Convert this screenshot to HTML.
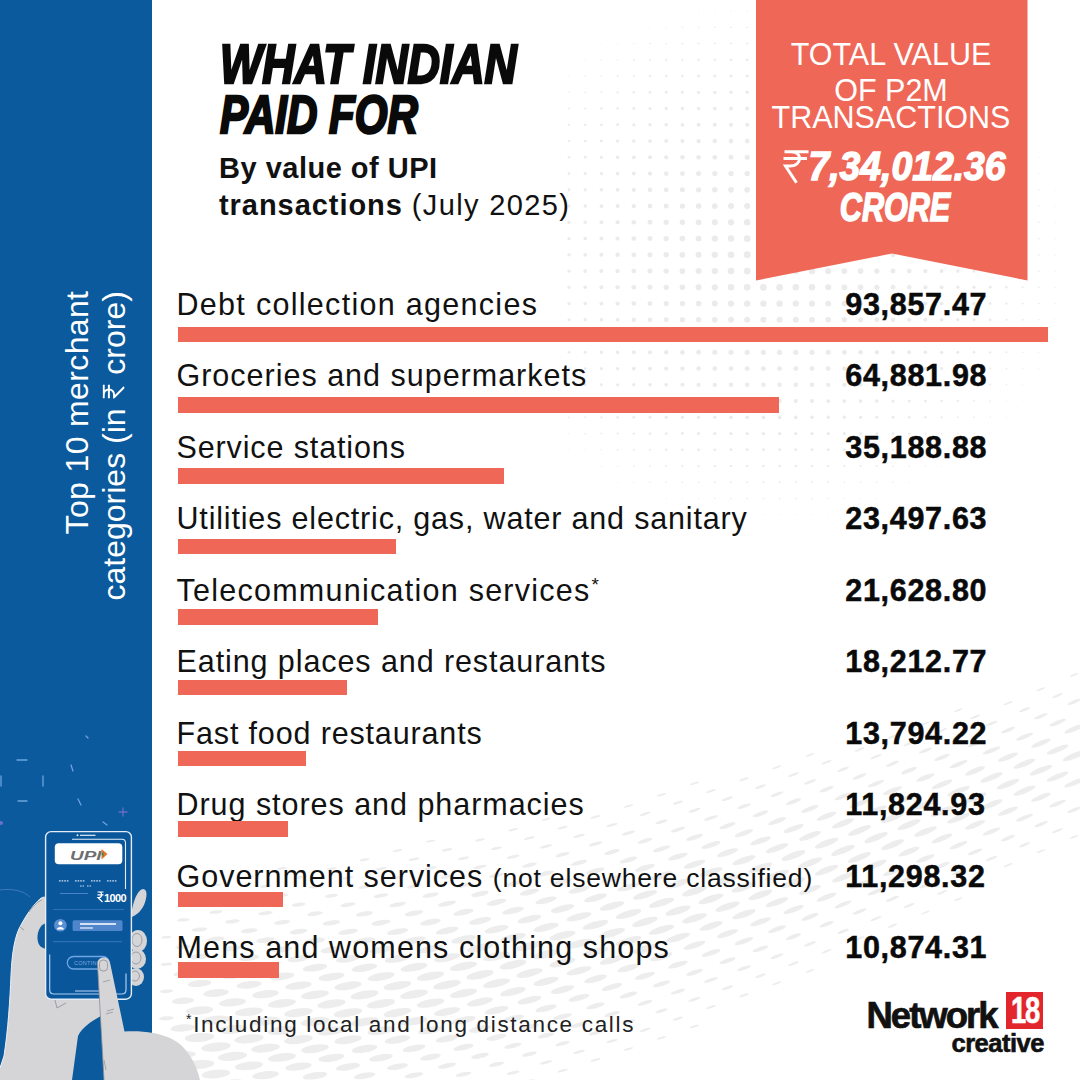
<!DOCTYPE html><html><head><meta charset="utf-8"><style>
html,body{margin:0;padding:0;}
body{width:1080px;height:1080px;position:relative;overflow:hidden;background:#fff;font-family:"Liberation Sans",sans-serif;}
.t{position:absolute;white-space:nowrap;line-height:1;transform-origin:0 0;}
.bar{position:absolute;background:#ef6857;}
svg{position:absolute;}
</style></head><body>
<svg style="left:0;top:0" width="1080" height="700" viewBox="0 0 1080 700">
<g fill="#ebebeb"><circle cx="682.4" cy="11.1" r="0.49"/><circle cx="698.6" cy="11.1" r="0.55"/><circle cx="714.8" cy="11.1" r="0.59"/><circle cx="731.0" cy="11.1" r="0.63"/><circle cx="747.2" cy="11.1" r="0.65"/><circle cx="763.4" cy="11.1" r="0.66"/><circle cx="779.6" cy="11.1" r="0.66"/><circle cx="795.8" cy="11.1" r="0.65"/><circle cx="812.0" cy="11.1" r="0.62"/><circle cx="828.2" cy="11.1" r="0.59"/><circle cx="844.4" cy="11.1" r="0.54"/><circle cx="860.6" cy="11.1" r="0.48"/><circle cx="633.8" cy="27.3" r="0.48"/><circle cx="650.0" cy="27.3" r="0.57"/><circle cx="666.2" cy="27.3" r="0.65"/><circle cx="682.4" cy="27.3" r="0.72"/><circle cx="698.6" cy="27.3" r="0.78"/><circle cx="714.8" cy="27.3" r="0.83"/><circle cx="731.0" cy="27.3" r="0.86"/><circle cx="747.2" cy="27.3" r="0.89"/><circle cx="763.4" cy="27.3" r="0.90"/><circle cx="779.6" cy="27.3" r="0.90"/><circle cx="795.8" cy="27.3" r="0.88"/><circle cx="812.0" cy="27.3" r="0.86"/><circle cx="828.2" cy="27.3" r="0.82"/><circle cx="844.4" cy="27.3" r="0.77"/><circle cx="860.6" cy="27.3" r="0.71"/><circle cx="876.8" cy="27.3" r="0.64"/><circle cx="893.0" cy="27.3" r="0.56"/><circle cx="909.2" cy="27.3" r="0.46"/><circle cx="601.4" cy="43.5" r="0.47"/><circle cx="617.6" cy="43.5" r="0.59"/><circle cx="633.8" cy="43.5" r="0.70"/><circle cx="650.0" cy="43.5" r="0.79"/><circle cx="666.2" cy="43.5" r="0.87"/><circle cx="682.4" cy="43.5" r="0.94"/><circle cx="698.6" cy="43.5" r="1.00"/><circle cx="714.8" cy="43.5" r="1.05"/><circle cx="731.0" cy="43.5" r="1.09"/><circle cx="747.2" cy="43.5" r="1.11"/><circle cx="763.4" cy="43.5" r="1.12"/><circle cx="779.6" cy="43.5" r="1.12"/><circle cx="795.8" cy="43.5" r="1.11"/><circle cx="812.0" cy="43.5" r="1.08"/><circle cx="828.2" cy="43.5" r="1.04"/><circle cx="844.4" cy="43.5" r="0.99"/><circle cx="860.6" cy="43.5" r="0.93"/><circle cx="876.8" cy="43.5" r="0.86"/><circle cx="893.0" cy="43.5" r="0.77"/><circle cx="909.2" cy="43.5" r="0.68"/><circle cx="925.4" cy="43.5" r="0.57"/><circle cx="585.2" cy="59.8" r="0.55"/><circle cx="601.4" cy="59.8" r="0.68"/><circle cx="617.6" cy="59.8" r="0.79"/><circle cx="633.8" cy="59.8" r="0.90"/><circle cx="650.0" cy="59.8" r="0.99"/><circle cx="666.2" cy="59.8" r="1.08"/><circle cx="682.4" cy="59.8" r="1.15"/><circle cx="698.6" cy="59.8" r="1.21"/><circle cx="714.8" cy="59.8" r="1.26"/><circle cx="731.0" cy="59.8" r="1.30"/><circle cx="747.2" cy="59.8" r="1.33"/><circle cx="763.4" cy="59.8" r="1.34"/><circle cx="779.6" cy="59.8" r="1.34"/><circle cx="795.8" cy="59.8" r="1.32"/><circle cx="812.0" cy="59.8" r="1.30"/><circle cx="828.2" cy="59.8" r="1.26"/><circle cx="844.4" cy="59.8" r="1.20"/><circle cx="860.6" cy="59.8" r="1.14"/><circle cx="876.8" cy="59.8" r="1.06"/><circle cx="893.0" cy="59.8" r="0.98"/><circle cx="909.2" cy="59.8" r="0.88"/><circle cx="925.4" cy="59.8" r="0.77"/><circle cx="941.6" cy="59.8" r="0.65"/><circle cx="957.8" cy="59.8" r="0.52"/><circle cx="569.0" cy="76.0" r="0.59"/><circle cx="585.2" cy="76.0" r="0.73"/><circle cx="601.4" cy="76.0" r="0.86"/><circle cx="617.6" cy="76.0" r="0.98"/><circle cx="633.8" cy="76.0" r="1.09"/><circle cx="650.0" cy="76.0" r="1.19"/><circle cx="666.2" cy="76.0" r="1.28"/><circle cx="682.4" cy="76.0" r="1.35"/><circle cx="698.6" cy="76.0" r="1.42"/><circle cx="714.8" cy="76.0" r="1.47"/><circle cx="731.0" cy="76.0" r="1.51"/><circle cx="747.2" cy="76.0" r="1.54"/><circle cx="763.4" cy="76.0" r="1.55"/><circle cx="779.6" cy="76.0" r="1.55"/><circle cx="795.8" cy="76.0" r="1.53"/><circle cx="812.0" cy="76.0" r="1.50"/><circle cx="828.2" cy="76.0" r="1.46"/><circle cx="844.4" cy="76.0" r="1.41"/><circle cx="860.6" cy="76.0" r="1.34"/><circle cx="876.8" cy="76.0" r="1.26"/><circle cx="893.0" cy="76.0" r="1.17"/><circle cx="909.2" cy="76.0" r="1.07"/><circle cx="925.4" cy="76.0" r="0.96"/><circle cx="941.6" cy="76.0" r="0.84"/><circle cx="957.8" cy="76.0" r="0.71"/><circle cx="974.0" cy="76.0" r="0.56"/><circle cx="569.0" cy="92.3" r="0.76"/><circle cx="585.2" cy="92.3" r="0.90"/><circle cx="601.4" cy="92.3" r="1.04"/><circle cx="617.6" cy="92.3" r="1.16"/><circle cx="633.8" cy="92.3" r="1.27"/><circle cx="650.0" cy="92.3" r="1.37"/><circle cx="666.2" cy="92.3" r="1.47"/><circle cx="682.4" cy="92.3" r="1.55"/><circle cx="698.6" cy="92.3" r="1.61"/><circle cx="714.8" cy="92.3" r="1.67"/><circle cx="731.0" cy="92.3" r="1.71"/><circle cx="747.2" cy="92.3" r="1.74"/><circle cx="763.4" cy="92.3" r="1.75"/><circle cx="779.6" cy="92.3" r="1.75"/><circle cx="795.8" cy="92.3" r="1.74"/><circle cx="812.0" cy="92.3" r="1.70"/><circle cx="828.2" cy="92.3" r="1.66"/><circle cx="844.4" cy="92.3" r="1.60"/><circle cx="860.6" cy="92.3" r="1.53"/><circle cx="876.8" cy="92.3" r="1.45"/><circle cx="893.0" cy="92.3" r="1.36"/><circle cx="909.2" cy="92.3" r="1.25"/><circle cx="925.4" cy="92.3" r="1.14"/><circle cx="941.6" cy="92.3" r="1.01"/><circle cx="957.8" cy="92.3" r="0.88"/><circle cx="974.0" cy="92.3" r="0.73"/><circle cx="990.2" cy="92.3" r="0.58"/><circle cx="569.0" cy="108.5" r="0.92"/><circle cx="585.2" cy="108.5" r="1.06"/><circle cx="601.4" cy="108.5" r="1.20"/><circle cx="617.6" cy="108.5" r="1.32"/><circle cx="633.8" cy="108.5" r="1.44"/><circle cx="650.0" cy="108.5" r="1.55"/><circle cx="666.2" cy="108.5" r="1.65"/><circle cx="682.4" cy="108.5" r="1.73"/><circle cx="698.6" cy="108.5" r="1.80"/><circle cx="714.8" cy="108.5" r="1.86"/><circle cx="731.0" cy="108.5" r="1.91"/><circle cx="747.2" cy="108.5" r="1.94"/><circle cx="763.4" cy="108.5" r="1.95"/><circle cx="779.6" cy="108.5" r="1.95"/><circle cx="795.8" cy="108.5" r="1.94"/><circle cx="812.0" cy="108.5" r="1.90"/><circle cx="828.2" cy="108.5" r="1.85"/><circle cx="844.4" cy="108.5" r="1.79"/><circle cx="860.6" cy="108.5" r="1.72"/><circle cx="876.8" cy="108.5" r="1.63"/><circle cx="893.0" cy="108.5" r="1.53"/><circle cx="909.2" cy="108.5" r="1.42"/><circle cx="925.4" cy="108.5" r="1.30"/><circle cx="941.6" cy="108.5" r="1.17"/><circle cx="957.8" cy="108.5" r="1.04"/><circle cx="974.0" cy="108.5" r="0.89"/><circle cx="990.2" cy="108.5" r="0.73"/><circle cx="1006.4" cy="108.5" r="0.57"/><circle cx="569.0" cy="124.8" r="1.06"/><circle cx="585.2" cy="124.8" r="1.21"/><circle cx="601.4" cy="124.8" r="1.35"/><circle cx="617.6" cy="124.8" r="1.48"/><circle cx="633.8" cy="124.8" r="1.60"/><circle cx="650.0" cy="124.8" r="1.72"/><circle cx="666.2" cy="124.8" r="1.82"/><circle cx="682.4" cy="124.8" r="1.91"/><circle cx="698.6" cy="124.8" r="1.99"/><circle cx="714.8" cy="124.8" r="2.05"/><circle cx="731.0" cy="124.8" r="2.10"/><circle cx="747.2" cy="124.8" r="2.14"/><circle cx="763.4" cy="124.8" r="2.15"/><circle cx="779.6" cy="124.8" r="2.15"/><circle cx="795.8" cy="124.8" r="2.13"/><circle cx="812.0" cy="124.8" r="2.09"/><circle cx="828.2" cy="124.8" r="2.04"/><circle cx="844.4" cy="124.8" r="1.97"/><circle cx="860.6" cy="124.8" r="1.89"/><circle cx="876.8" cy="124.8" r="1.80"/><circle cx="893.0" cy="124.8" r="1.70"/><circle cx="909.2" cy="124.8" r="1.58"/><circle cx="925.4" cy="124.8" r="1.46"/><circle cx="941.6" cy="124.8" r="1.32"/><circle cx="957.8" cy="124.8" r="1.18"/><circle cx="974.0" cy="124.8" r="1.03"/><circle cx="990.2" cy="124.8" r="0.87"/><circle cx="1006.4" cy="124.8" r="0.71"/><circle cx="1022.6" cy="124.8" r="0.53"/><circle cx="569.0" cy="141.1" r="1.19"/><circle cx="585.2" cy="141.1" r="1.34"/><circle cx="601.4" cy="141.1" r="1.49"/><circle cx="617.6" cy="141.1" r="1.62"/><circle cx="633.8" cy="141.1" r="1.75"/><circle cx="650.0" cy="141.1" r="1.87"/><circle cx="666.2" cy="141.1" r="1.98"/><circle cx="682.4" cy="141.1" r="2.08"/><circle cx="698.6" cy="141.1" r="2.17"/><circle cx="714.8" cy="141.1" r="2.24"/><circle cx="731.0" cy="141.1" r="2.29"/><circle cx="747.2" cy="141.1" r="2.33"/><circle cx="763.4" cy="141.1" r="2.35"/><circle cx="779.6" cy="141.1" r="2.34"/><circle cx="795.8" cy="141.1" r="2.32"/><circle cx="812.0" cy="141.1" r="2.28"/><circle cx="828.2" cy="141.1" r="2.22"/><circle cx="844.4" cy="141.1" r="2.15"/><circle cx="860.6" cy="141.1" r="2.06"/><circle cx="876.8" cy="141.1" r="1.96"/><circle cx="893.0" cy="141.1" r="1.85"/><circle cx="909.2" cy="141.1" r="1.73"/><circle cx="925.4" cy="141.1" r="1.60"/><circle cx="941.6" cy="141.1" r="1.46"/><circle cx="957.8" cy="141.1" r="1.31"/><circle cx="974.0" cy="141.1" r="1.16"/><circle cx="990.2" cy="141.1" r="1.00"/><circle cx="1006.4" cy="141.1" r="0.83"/><circle cx="1022.6" cy="141.1" r="0.65"/><circle cx="1038.8" cy="141.1" r="0.46"/><circle cx="569.0" cy="157.3" r="1.31"/><circle cx="585.2" cy="157.3" r="1.46"/><circle cx="601.4" cy="157.3" r="1.61"/><circle cx="617.6" cy="157.3" r="1.75"/><circle cx="633.8" cy="157.3" r="1.89"/><circle cx="650.0" cy="157.3" r="2.02"/><circle cx="666.2" cy="157.3" r="2.13"/><circle cx="682.4" cy="157.3" r="2.24"/><circle cx="698.6" cy="157.3" r="2.33"/><circle cx="714.8" cy="157.3" r="2.41"/><circle cx="731.0" cy="157.3" r="2.47"/><circle cx="747.2" cy="157.3" r="2.52"/><circle cx="763.4" cy="157.3" r="2.54"/><circle cx="779.6" cy="157.3" r="2.54"/><circle cx="795.8" cy="157.3" r="2.51"/><circle cx="812.0" cy="157.3" r="2.47"/><circle cx="828.2" cy="157.3" r="2.40"/><circle cx="844.4" cy="157.3" r="2.32"/><circle cx="860.6" cy="157.3" r="2.22"/><circle cx="876.8" cy="157.3" r="2.11"/><circle cx="893.0" cy="157.3" r="1.99"/><circle cx="909.2" cy="157.3" r="1.87"/><circle cx="925.4" cy="157.3" r="1.73"/><circle cx="941.6" cy="157.3" r="1.58"/><circle cx="957.8" cy="157.3" r="1.43"/><circle cx="974.0" cy="157.3" r="1.28"/><circle cx="990.2" cy="157.3" r="1.11"/><circle cx="1006.4" cy="157.3" r="0.94"/><circle cx="1022.6" cy="157.3" r="0.76"/><circle cx="1038.8" cy="157.3" r="0.57"/><circle cx="569.0" cy="173.6" r="1.41"/><circle cx="585.2" cy="173.6" r="1.57"/><circle cx="601.4" cy="173.6" r="1.72"/><circle cx="617.6" cy="173.6" r="1.87"/><circle cx="633.8" cy="173.6" r="2.01"/><circle cx="650.0" cy="173.6" r="2.15"/><circle cx="666.2" cy="173.6" r="2.28"/><circle cx="682.4" cy="173.6" r="2.39"/><circle cx="698.6" cy="173.6" r="2.50"/><circle cx="714.8" cy="173.6" r="2.58"/><circle cx="731.0" cy="173.6" r="2.65"/><circle cx="747.2" cy="173.6" r="2.70"/><circle cx="763.4" cy="173.6" r="2.73"/><circle cx="779.6" cy="173.6" r="2.72"/><circle cx="795.8" cy="173.6" r="2.69"/><circle cx="812.0" cy="173.6" r="2.64"/><circle cx="828.2" cy="173.6" r="2.57"/><circle cx="844.4" cy="173.6" r="2.48"/><circle cx="860.6" cy="173.6" r="2.37"/><circle cx="876.8" cy="173.6" r="2.25"/><circle cx="893.0" cy="173.6" r="2.12"/><circle cx="909.2" cy="173.6" r="1.99"/><circle cx="925.4" cy="173.6" r="1.84"/><circle cx="941.6" cy="173.6" r="1.69"/><circle cx="957.8" cy="173.6" r="1.54"/><circle cx="974.0" cy="173.6" r="1.38"/><circle cx="990.2" cy="173.6" r="1.21"/><circle cx="1006.4" cy="173.6" r="1.03"/><circle cx="1022.6" cy="173.6" r="0.85"/><circle cx="1038.8" cy="173.6" r="0.66"/><circle cx="1055.0" cy="173.6" r="0.46"/><circle cx="569.0" cy="189.8" r="1.49"/><circle cx="585.2" cy="189.8" r="1.66"/><circle cx="601.4" cy="189.8" r="1.82"/><circle cx="617.6" cy="189.8" r="1.97"/><circle cx="633.8" cy="189.8" r="2.12"/><circle cx="650.0" cy="189.8" r="2.27"/><circle cx="666.2" cy="189.8" r="2.40"/><circle cx="682.4" cy="189.8" r="2.53"/><circle cx="698.6" cy="189.8" r="2.64"/><circle cx="714.8" cy="189.8" r="2.74"/><circle cx="731.0" cy="189.8" r="2.83"/><circle cx="747.2" cy="189.8" r="2.88"/><circle cx="763.4" cy="189.8" r="2.91"/><circle cx="779.6" cy="189.8" r="2.91"/><circle cx="795.8" cy="189.8" r="2.87"/><circle cx="812.0" cy="189.8" r="2.81"/><circle cx="828.2" cy="189.8" r="2.73"/><circle cx="844.4" cy="189.8" r="2.62"/><circle cx="860.6" cy="189.8" r="2.51"/><circle cx="876.8" cy="189.8" r="2.38"/><circle cx="893.0" cy="189.8" r="2.24"/><circle cx="909.2" cy="189.8" r="2.10"/><circle cx="925.4" cy="189.8" r="1.95"/><circle cx="941.6" cy="189.8" r="1.79"/><circle cx="957.8" cy="189.8" r="1.63"/><circle cx="974.0" cy="189.8" r="1.46"/><circle cx="990.2" cy="189.8" r="1.29"/><circle cx="1006.4" cy="189.8" r="1.11"/><circle cx="1022.6" cy="189.8" r="0.93"/><circle cx="1038.8" cy="189.8" r="0.74"/><circle cx="1055.0" cy="189.8" r="0.53"/><circle cx="569.0" cy="206.1" r="1.56"/><circle cx="585.2" cy="206.1" r="1.73"/><circle cx="601.4" cy="206.1" r="1.90"/><circle cx="617.6" cy="206.1" r="2.06"/><circle cx="633.8" cy="206.1" r="2.21"/><circle cx="650.0" cy="206.1" r="2.36"/><circle cx="666.2" cy="206.1" r="2.51"/><circle cx="682.4" cy="206.1" r="2.65"/><circle cx="698.6" cy="206.1" r="2.78"/><circle cx="714.8" cy="206.1" r="2.89"/><circle cx="731.0" cy="206.1" r="2.99"/><circle cx="747.2" cy="206.1" r="3.06"/><circle cx="763.4" cy="206.1" r="3.10"/><circle cx="779.6" cy="206.1" r="3.09"/><circle cx="795.8" cy="206.1" r="3.05"/><circle cx="812.0" cy="206.1" r="2.97"/><circle cx="828.2" cy="206.1" r="2.87"/><circle cx="844.4" cy="206.1" r="2.75"/><circle cx="860.6" cy="206.1" r="2.62"/><circle cx="876.8" cy="206.1" r="2.48"/><circle cx="893.0" cy="206.1" r="2.34"/><circle cx="909.2" cy="206.1" r="2.19"/><circle cx="925.4" cy="206.1" r="2.03"/><circle cx="941.6" cy="206.1" r="1.87"/><circle cx="957.8" cy="206.1" r="1.70"/><circle cx="974.0" cy="206.1" r="1.53"/><circle cx="990.2" cy="206.1" r="1.36"/><circle cx="1006.4" cy="206.1" r="1.18"/><circle cx="1022.6" cy="206.1" r="0.99"/><circle cx="1038.8" cy="206.1" r="0.80"/><circle cx="1055.0" cy="206.1" r="0.59"/><circle cx="569.0" cy="222.3" r="1.61"/><circle cx="585.2" cy="222.3" r="1.79"/><circle cx="601.4" cy="222.3" r="1.96"/><circle cx="617.6" cy="222.3" r="2.12"/><circle cx="633.8" cy="222.3" r="2.28"/><circle cx="650.0" cy="222.3" r="2.44"/><circle cx="666.2" cy="222.3" r="2.60"/><circle cx="682.4" cy="222.3" r="2.74"/><circle cx="698.6" cy="222.3" r="2.89"/><circle cx="714.8" cy="222.3" r="3.02"/><circle cx="731.0" cy="222.3" r="3.14"/><circle cx="747.2" cy="222.3" r="3.23"/><circle cx="763.4" cy="222.3" r="3.28"/><circle cx="779.6" cy="222.3" r="3.27"/><circle cx="795.8" cy="222.3" r="3.21"/><circle cx="812.0" cy="222.3" r="3.12"/><circle cx="828.2" cy="222.3" r="3.00"/><circle cx="844.4" cy="222.3" r="2.86"/><circle cx="860.6" cy="222.3" r="2.72"/><circle cx="876.8" cy="222.3" r="2.57"/><circle cx="893.0" cy="222.3" r="2.41"/><circle cx="909.2" cy="222.3" r="2.25"/><circle cx="925.4" cy="222.3" r="2.09"/><circle cx="941.6" cy="222.3" r="1.93"/><circle cx="957.8" cy="222.3" r="1.76"/><circle cx="974.0" cy="222.3" r="1.58"/><circle cx="990.2" cy="222.3" r="1.40"/><circle cx="1006.4" cy="222.3" r="1.22"/><circle cx="1022.6" cy="222.3" r="1.03"/><circle cx="1038.8" cy="222.3" r="0.84"/><circle cx="1055.0" cy="222.3" r="0.64"/><circle cx="569.0" cy="238.6" r="1.65"/><circle cx="585.2" cy="238.6" r="1.82"/><circle cx="601.4" cy="238.6" r="2.00"/><circle cx="617.6" cy="238.6" r="2.16"/><circle cx="633.8" cy="238.6" r="2.33"/><circle cx="650.0" cy="238.6" r="2.49"/><circle cx="666.2" cy="238.6" r="2.65"/><circle cx="682.4" cy="238.6" r="2.81"/><circle cx="698.6" cy="238.6" r="2.97"/><circle cx="714.8" cy="238.6" r="3.12"/><circle cx="731.0" cy="238.6" r="3.26"/><circle cx="747.2" cy="238.6" r="3.38"/><circle cx="763.4" cy="238.6" r="3.46"/><circle cx="779.6" cy="238.6" r="3.45"/><circle cx="795.8" cy="238.6" r="3.36"/><circle cx="812.0" cy="238.6" r="3.23"/><circle cx="828.2" cy="238.6" r="3.09"/><circle cx="844.4" cy="238.6" r="2.94"/><circle cx="860.6" cy="238.6" r="2.78"/><circle cx="876.8" cy="238.6" r="2.63"/><circle cx="893.0" cy="238.6" r="2.46"/><circle cx="909.2" cy="238.6" r="2.30"/><circle cx="925.4" cy="238.6" r="2.13"/><circle cx="941.6" cy="238.6" r="1.96"/><circle cx="957.8" cy="238.6" r="1.79"/><circle cx="974.0" cy="238.6" r="1.62"/><circle cx="990.2" cy="238.6" r="1.44"/><circle cx="1006.4" cy="238.6" r="1.25"/><circle cx="1022.6" cy="238.6" r="1.06"/><circle cx="1038.8" cy="238.6" r="0.87"/><circle cx="1055.0" cy="238.6" r="0.67"/><circle cx="1071.2" cy="238.6" r="0.45"/><circle cx="569.0" cy="254.8" r="1.66"/><circle cx="585.2" cy="254.8" r="1.84"/><circle cx="601.4" cy="254.8" r="2.01"/><circle cx="617.6" cy="254.8" r="2.18"/><circle cx="633.8" cy="254.8" r="2.35"/><circle cx="650.0" cy="254.8" r="2.52"/><circle cx="666.2" cy="254.8" r="2.68"/><circle cx="682.4" cy="254.8" r="2.84"/><circle cx="698.6" cy="254.8" r="3.00"/><circle cx="714.8" cy="254.8" r="3.16"/><circle cx="731.0" cy="254.8" r="3.32"/><circle cx="747.2" cy="254.8" r="3.47"/><circle cx="763.4" cy="254.8" r="3.61"/><circle cx="779.6" cy="254.8" r="3.59"/><circle cx="795.8" cy="254.8" r="3.45"/><circle cx="812.0" cy="254.8" r="3.29"/><circle cx="828.2" cy="254.8" r="3.13"/><circle cx="844.4" cy="254.8" r="2.98"/><circle cx="860.6" cy="254.8" r="2.81"/><circle cx="876.8" cy="254.8" r="2.65"/><circle cx="893.0" cy="254.8" r="2.49"/><circle cx="909.2" cy="254.8" r="2.32"/><circle cx="925.4" cy="254.8" r="2.15"/><circle cx="941.6" cy="254.8" r="1.98"/><circle cx="957.8" cy="254.8" r="1.81"/><circle cx="974.0" cy="254.8" r="1.63"/><circle cx="990.2" cy="254.8" r="1.45"/><circle cx="1006.4" cy="254.8" r="1.27"/><circle cx="1022.6" cy="254.8" r="1.08"/><circle cx="1038.8" cy="254.8" r="0.88"/><circle cx="1055.0" cy="254.8" r="0.68"/><circle cx="1071.2" cy="254.8" r="0.46"/><circle cx="569.0" cy="271.1" r="1.66"/><circle cx="585.2" cy="271.1" r="1.84"/><circle cx="601.4" cy="271.1" r="2.01"/><circle cx="617.6" cy="271.1" r="2.18"/><circle cx="633.8" cy="271.1" r="2.35"/><circle cx="650.0" cy="271.1" r="2.51"/><circle cx="666.2" cy="271.1" r="2.68"/><circle cx="682.4" cy="271.1" r="2.84"/><circle cx="698.6" cy="271.1" r="3.00"/><circle cx="714.8" cy="271.1" r="3.15"/><circle cx="731.0" cy="271.1" r="3.31"/><circle cx="747.2" cy="271.1" r="3.45"/><circle cx="763.4" cy="271.1" r="3.56"/><circle cx="779.6" cy="271.1" r="3.55"/><circle cx="795.8" cy="271.1" r="3.42"/><circle cx="812.0" cy="271.1" r="3.28"/><circle cx="828.2" cy="271.1" r="3.12"/><circle cx="844.4" cy="271.1" r="2.97"/><circle cx="860.6" cy="271.1" r="2.81"/><circle cx="876.8" cy="271.1" r="2.65"/><circle cx="893.0" cy="271.1" r="2.48"/><circle cx="909.2" cy="271.1" r="2.32"/><circle cx="925.4" cy="271.1" r="2.15"/><circle cx="941.6" cy="271.1" r="1.98"/><circle cx="957.8" cy="271.1" r="1.80"/><circle cx="974.0" cy="271.1" r="1.63"/><circle cx="990.2" cy="271.1" r="1.45"/><circle cx="1006.4" cy="271.1" r="1.26"/><circle cx="1022.6" cy="271.1" r="1.07"/><circle cx="1038.8" cy="271.1" r="0.88"/><circle cx="1055.0" cy="271.1" r="0.68"/><circle cx="1071.2" cy="271.1" r="0.46"/><circle cx="569.0" cy="287.3" r="1.64"/><circle cx="585.2" cy="287.3" r="1.81"/><circle cx="601.4" cy="287.3" r="1.98"/><circle cx="617.6" cy="287.3" r="2.15"/><circle cx="633.8" cy="287.3" r="2.32"/><circle cx="650.0" cy="287.3" r="2.48"/><circle cx="666.2" cy="287.3" r="2.64"/><circle cx="682.4" cy="287.3" r="2.79"/><circle cx="698.6" cy="287.3" r="2.94"/><circle cx="714.8" cy="287.3" r="3.09"/><circle cx="731.0" cy="287.3" r="3.22"/><circle cx="747.2" cy="287.3" r="3.33"/><circle cx="763.4" cy="287.3" r="3.39"/><circle cx="779.6" cy="287.3" r="3.38"/><circle cx="795.8" cy="287.3" r="3.31"/><circle cx="812.0" cy="287.3" r="3.19"/><circle cx="828.2" cy="287.3" r="3.06"/><circle cx="844.4" cy="287.3" r="2.91"/><circle cx="860.6" cy="287.3" r="2.76"/><circle cx="876.8" cy="287.3" r="2.61"/><circle cx="893.0" cy="287.3" r="2.45"/><circle cx="909.2" cy="287.3" r="2.29"/><circle cx="925.4" cy="287.3" r="2.12"/><circle cx="941.6" cy="287.3" r="1.95"/><circle cx="957.8" cy="287.3" r="1.78"/><circle cx="974.0" cy="287.3" r="1.61"/><circle cx="990.2" cy="287.3" r="1.43"/><circle cx="1006.4" cy="287.3" r="1.24"/><circle cx="1022.6" cy="287.3" r="1.06"/><circle cx="1038.8" cy="287.3" r="0.86"/><circle cx="1055.0" cy="287.3" r="0.66"/><circle cx="569.0" cy="303.6" r="1.60"/><circle cx="585.2" cy="303.6" r="1.77"/><circle cx="601.4" cy="303.6" r="1.94"/><circle cx="617.6" cy="303.6" r="2.10"/><circle cx="633.8" cy="303.6" r="2.26"/><circle cx="650.0" cy="303.6" r="2.42"/><circle cx="666.2" cy="303.6" r="2.57"/><circle cx="682.4" cy="303.6" r="2.71"/><circle cx="698.6" cy="303.6" r="2.85"/><circle cx="714.8" cy="303.6" r="2.98"/><circle cx="731.0" cy="303.6" r="3.09"/><circle cx="747.2" cy="303.6" r="3.17"/><circle cx="763.4" cy="303.6" r="3.21"/><circle cx="779.6" cy="303.6" r="3.21"/><circle cx="795.8" cy="303.6" r="3.16"/><circle cx="812.0" cy="303.6" r="3.07"/><circle cx="828.2" cy="303.6" r="2.95"/><circle cx="844.4" cy="303.6" r="2.83"/><circle cx="860.6" cy="303.6" r="2.69"/><circle cx="876.8" cy="303.6" r="2.54"/><circle cx="893.0" cy="303.6" r="2.39"/><circle cx="909.2" cy="303.6" r="2.23"/><circle cx="925.4" cy="303.6" r="2.07"/><circle cx="941.6" cy="303.6" r="1.91"/><circle cx="957.8" cy="303.6" r="1.74"/><circle cx="974.0" cy="303.6" r="1.57"/><circle cx="990.2" cy="303.6" r="1.39"/><circle cx="1006.4" cy="303.6" r="1.21"/><circle cx="1022.6" cy="303.6" r="1.02"/><circle cx="1038.8" cy="303.6" r="0.83"/><circle cx="1055.0" cy="303.6" r="0.62"/><circle cx="569.0" cy="319.8" r="1.54"/><circle cx="585.2" cy="319.8" r="1.71"/><circle cx="601.4" cy="319.8" r="1.87"/><circle cx="617.6" cy="319.8" r="2.03"/><circle cx="633.8" cy="319.8" r="2.18"/><circle cx="650.0" cy="319.8" r="2.33"/><circle cx="666.2" cy="319.8" r="2.47"/><circle cx="682.4" cy="319.8" r="2.61"/><circle cx="698.6" cy="319.8" r="2.73"/><circle cx="714.8" cy="319.8" r="2.84"/><circle cx="731.0" cy="319.8" r="2.93"/><circle cx="747.2" cy="319.8" r="3.00"/><circle cx="763.4" cy="319.8" r="3.03"/><circle cx="779.6" cy="319.8" r="3.03"/><circle cx="795.8" cy="319.8" r="2.99"/><circle cx="812.0" cy="319.8" r="2.92"/><circle cx="828.2" cy="319.8" r="2.82"/><circle cx="844.4" cy="319.8" r="2.71"/><circle cx="860.6" cy="319.8" r="2.58"/><circle cx="876.8" cy="319.8" r="2.45"/><circle cx="893.0" cy="319.8" r="2.30"/><circle cx="909.2" cy="319.8" r="2.16"/><circle cx="925.4" cy="319.8" r="2.00"/><circle cx="941.6" cy="319.8" r="1.84"/><circle cx="957.8" cy="319.8" r="1.68"/><circle cx="974.0" cy="319.8" r="1.51"/><circle cx="990.2" cy="319.8" r="1.33"/><circle cx="1006.4" cy="319.8" r="1.15"/><circle cx="1022.6" cy="319.8" r="0.97"/><circle cx="1038.8" cy="319.8" r="0.78"/><circle cx="1055.0" cy="319.8" r="0.57"/><circle cx="569.0" cy="336.1" r="1.46"/><circle cx="585.2" cy="336.1" r="1.63"/><circle cx="601.4" cy="336.1" r="1.79"/><circle cx="617.6" cy="336.1" r="1.94"/><circle cx="633.8" cy="336.1" r="2.09"/><circle cx="650.0" cy="336.1" r="2.23"/><circle cx="666.2" cy="336.1" r="2.36"/><circle cx="682.4" cy="336.1" r="2.48"/><circle cx="698.6" cy="336.1" r="2.59"/><circle cx="714.8" cy="336.1" r="2.69"/><circle cx="731.0" cy="336.1" r="2.76"/><circle cx="747.2" cy="336.1" r="2.82"/><circle cx="763.4" cy="336.1" r="2.85"/><circle cx="779.6" cy="336.1" r="2.84"/><circle cx="795.8" cy="336.1" r="2.81"/><circle cx="812.0" cy="336.1" r="2.75"/><circle cx="828.2" cy="336.1" r="2.67"/><circle cx="844.4" cy="336.1" r="2.57"/><circle cx="860.6" cy="336.1" r="2.46"/><circle cx="876.8" cy="336.1" r="2.33"/><circle cx="893.0" cy="336.1" r="2.20"/><circle cx="909.2" cy="336.1" r="2.06"/><circle cx="925.4" cy="336.1" r="1.91"/><circle cx="941.6" cy="336.1" r="1.76"/><circle cx="957.8" cy="336.1" r="1.60"/><circle cx="974.0" cy="336.1" r="1.43"/><circle cx="990.2" cy="336.1" r="1.26"/><circle cx="1006.4" cy="336.1" r="1.09"/><circle cx="1022.6" cy="336.1" r="0.90"/><circle cx="1038.8" cy="336.1" r="0.71"/><circle cx="1055.0" cy="336.1" r="0.51"/><circle cx="569.0" cy="352.3" r="1.37"/><circle cx="585.2" cy="352.3" r="1.53"/><circle cx="601.4" cy="352.3" r="1.68"/><circle cx="617.6" cy="352.3" r="1.83"/><circle cx="633.8" cy="352.3" r="1.97"/><circle cx="650.0" cy="352.3" r="2.10"/><circle cx="666.2" cy="352.3" r="2.23"/><circle cx="682.4" cy="352.3" r="2.34"/><circle cx="698.6" cy="352.3" r="2.44"/><circle cx="714.8" cy="352.3" r="2.52"/><circle cx="731.0" cy="352.3" r="2.59"/><circle cx="747.2" cy="352.3" r="2.64"/><circle cx="763.4" cy="352.3" r="2.66"/><circle cx="779.6" cy="352.3" r="2.66"/><circle cx="795.8" cy="352.3" r="2.63"/><circle cx="812.0" cy="352.3" r="2.58"/><circle cx="828.2" cy="352.3" r="2.51"/><circle cx="844.4" cy="352.3" r="2.42"/><circle cx="860.6" cy="352.3" r="2.32"/><circle cx="876.8" cy="352.3" r="2.20"/><circle cx="893.0" cy="352.3" r="2.08"/><circle cx="909.2" cy="352.3" r="1.95"/><circle cx="925.4" cy="352.3" r="1.80"/><circle cx="941.6" cy="352.3" r="1.66"/><circle cx="957.8" cy="352.3" r="1.50"/><circle cx="974.0" cy="352.3" r="1.34"/><circle cx="990.2" cy="352.3" r="1.17"/><circle cx="1006.4" cy="352.3" r="1.00"/><circle cx="1022.6" cy="352.3" r="0.82"/><circle cx="1038.8" cy="352.3" r="0.63"/><circle cx="569.0" cy="368.6" r="1.27"/><circle cx="585.2" cy="368.6" r="1.42"/><circle cx="601.4" cy="368.6" r="1.57"/><circle cx="617.6" cy="368.6" r="1.71"/><circle cx="633.8" cy="368.6" r="1.84"/><circle cx="650.0" cy="368.6" r="1.97"/><circle cx="666.2" cy="368.6" r="2.08"/><circle cx="682.4" cy="368.6" r="2.18"/><circle cx="698.6" cy="368.6" r="2.27"/><circle cx="714.8" cy="368.6" r="2.35"/><circle cx="731.0" cy="368.6" r="2.41"/><circle cx="747.2" cy="368.6" r="2.45"/><circle cx="763.4" cy="368.6" r="2.47"/><circle cx="779.6" cy="368.6" r="2.47"/><circle cx="795.8" cy="368.6" r="2.44"/><circle cx="812.0" cy="368.6" r="2.40"/><circle cx="828.2" cy="368.6" r="2.34"/><circle cx="844.4" cy="368.6" r="2.26"/><circle cx="860.6" cy="368.6" r="2.17"/><circle cx="876.8" cy="368.6" r="2.06"/><circle cx="893.0" cy="368.6" r="1.94"/><circle cx="909.2" cy="368.6" r="1.82"/><circle cx="925.4" cy="368.6" r="1.68"/><circle cx="941.6" cy="368.6" r="1.54"/><circle cx="957.8" cy="368.6" r="1.39"/><circle cx="974.0" cy="368.6" r="1.24"/><circle cx="990.2" cy="368.6" r="1.07"/><circle cx="1006.4" cy="368.6" r="0.90"/><circle cx="1022.6" cy="368.6" r="0.72"/><circle cx="1038.8" cy="368.6" r="0.53"/><circle cx="569.0" cy="384.8" r="1.14"/><circle cx="585.2" cy="384.8" r="1.30"/><circle cx="601.4" cy="384.8" r="1.44"/><circle cx="617.6" cy="384.8" r="1.57"/><circle cx="633.8" cy="384.8" r="1.70"/><circle cx="650.0" cy="384.8" r="1.82"/><circle cx="666.2" cy="384.8" r="1.92"/><circle cx="682.4" cy="384.8" r="2.02"/><circle cx="698.6" cy="384.8" r="2.10"/><circle cx="714.8" cy="384.8" r="2.17"/><circle cx="731.0" cy="384.8" r="2.22"/><circle cx="747.2" cy="384.8" r="2.26"/><circle cx="763.4" cy="384.8" r="2.28"/><circle cx="779.6" cy="384.8" r="2.27"/><circle cx="795.8" cy="384.8" r="2.25"/><circle cx="812.0" cy="384.8" r="2.22"/><circle cx="828.2" cy="384.8" r="2.16"/><circle cx="844.4" cy="384.8" r="2.09"/><circle cx="860.6" cy="384.8" r="2.00"/><circle cx="876.8" cy="384.8" r="1.90"/><circle cx="893.0" cy="384.8" r="1.80"/><circle cx="909.2" cy="384.8" r="1.68"/><circle cx="925.4" cy="384.8" r="1.55"/><circle cx="941.6" cy="384.8" r="1.41"/><circle cx="957.8" cy="384.8" r="1.27"/><circle cx="974.0" cy="384.8" r="1.12"/><circle cx="990.2" cy="384.8" r="0.96"/><circle cx="1006.4" cy="384.8" r="0.79"/><circle cx="1022.6" cy="384.8" r="0.61"/><circle cx="569.0" cy="401.1" r="1.01"/><circle cx="585.2" cy="401.1" r="1.16"/><circle cx="601.4" cy="401.1" r="1.30"/><circle cx="617.6" cy="401.1" r="1.43"/><circle cx="633.8" cy="401.1" r="1.55"/><circle cx="650.0" cy="401.1" r="1.66"/><circle cx="666.2" cy="401.1" r="1.76"/><circle cx="682.4" cy="401.1" r="1.85"/><circle cx="698.6" cy="401.1" r="1.92"/><circle cx="714.8" cy="401.1" r="1.99"/><circle cx="731.0" cy="401.1" r="2.03"/><circle cx="747.2" cy="401.1" r="2.07"/><circle cx="763.4" cy="401.1" r="2.08"/><circle cx="779.6" cy="401.1" r="2.08"/><circle cx="795.8" cy="401.1" r="2.06"/><circle cx="812.0" cy="401.1" r="2.03"/><circle cx="828.2" cy="401.1" r="1.97"/><circle cx="844.4" cy="401.1" r="1.91"/><circle cx="860.6" cy="401.1" r="1.83"/><circle cx="876.8" cy="401.1" r="1.74"/><circle cx="893.0" cy="401.1" r="1.64"/><circle cx="909.2" cy="401.1" r="1.52"/><circle cx="925.4" cy="401.1" r="1.40"/><circle cx="941.6" cy="401.1" r="1.27"/><circle cx="957.8" cy="401.1" r="1.13"/><circle cx="974.0" cy="401.1" r="0.98"/><circle cx="990.2" cy="401.1" r="0.83"/><circle cx="1006.4" cy="401.1" r="0.66"/><circle cx="1022.6" cy="401.1" r="0.48"/><circle cx="569.0" cy="417.3" r="0.86"/><circle cx="585.2" cy="417.3" r="1.01"/><circle cx="601.4" cy="417.3" r="1.14"/><circle cx="617.6" cy="417.3" r="1.27"/><circle cx="633.8" cy="417.3" r="1.38"/><circle cx="650.0" cy="417.3" r="1.49"/><circle cx="666.2" cy="417.3" r="1.58"/><circle cx="682.4" cy="417.3" r="1.67"/><circle cx="698.6" cy="417.3" r="1.74"/><circle cx="714.8" cy="417.3" r="1.79"/><circle cx="731.0" cy="417.3" r="1.84"/><circle cx="747.2" cy="417.3" r="1.87"/><circle cx="763.4" cy="417.3" r="1.88"/><circle cx="779.6" cy="417.3" r="1.88"/><circle cx="795.8" cy="417.3" r="1.86"/><circle cx="812.0" cy="417.3" r="1.83"/><circle cx="828.2" cy="417.3" r="1.78"/><circle cx="844.4" cy="417.3" r="1.72"/><circle cx="860.6" cy="417.3" r="1.65"/><circle cx="876.8" cy="417.3" r="1.57"/><circle cx="893.0" cy="417.3" r="1.47"/><circle cx="909.2" cy="417.3" r="1.36"/><circle cx="925.4" cy="417.3" r="1.24"/><circle cx="941.6" cy="417.3" r="1.12"/><circle cx="957.8" cy="417.3" r="0.98"/><circle cx="974.0" cy="417.3" r="0.84"/><circle cx="990.2" cy="417.3" r="0.68"/><circle cx="1006.4" cy="417.3" r="0.51"/><circle cx="569.0" cy="433.6" r="0.70"/><circle cx="585.2" cy="433.6" r="0.84"/><circle cx="601.4" cy="433.6" r="0.98"/><circle cx="617.6" cy="433.6" r="1.10"/><circle cx="633.8" cy="433.6" r="1.21"/><circle cx="650.0" cy="433.6" r="1.31"/><circle cx="666.2" cy="433.6" r="1.40"/><circle cx="682.4" cy="433.6" r="1.48"/><circle cx="698.6" cy="433.6" r="1.54"/><circle cx="714.8" cy="433.6" r="1.60"/><circle cx="731.0" cy="433.6" r="1.64"/><circle cx="747.2" cy="433.6" r="1.67"/><circle cx="763.4" cy="433.6" r="1.68"/><circle cx="779.6" cy="433.6" r="1.68"/><circle cx="795.8" cy="433.6" r="1.66"/><circle cx="812.0" cy="433.6" r="1.63"/><circle cx="828.2" cy="433.6" r="1.59"/><circle cx="844.4" cy="433.6" r="1.53"/><circle cx="860.6" cy="433.6" r="1.46"/><circle cx="876.8" cy="433.6" r="1.38"/><circle cx="893.0" cy="433.6" r="1.29"/><circle cx="909.2" cy="433.6" r="1.19"/><circle cx="925.4" cy="433.6" r="1.07"/><circle cx="941.6" cy="433.6" r="0.95"/><circle cx="957.8" cy="433.6" r="0.82"/><circle cx="974.0" cy="433.6" r="0.68"/><circle cx="990.2" cy="433.6" r="0.52"/><circle cx="569.0" cy="449.8" r="0.53"/><circle cx="585.2" cy="449.8" r="0.67"/><circle cx="601.4" cy="449.8" r="0.80"/><circle cx="617.6" cy="449.8" r="0.92"/><circle cx="633.8" cy="449.8" r="1.02"/><circle cx="650.0" cy="449.8" r="1.12"/><circle cx="666.2" cy="449.8" r="1.21"/><circle cx="682.4" cy="449.8" r="1.28"/><circle cx="698.6" cy="449.8" r="1.35"/><circle cx="714.8" cy="449.8" r="1.40"/><circle cx="731.0" cy="449.8" r="1.43"/><circle cx="747.2" cy="449.8" r="1.46"/><circle cx="763.4" cy="449.8" r="1.47"/><circle cx="779.6" cy="449.8" r="1.47"/><circle cx="795.8" cy="449.8" r="1.46"/><circle cx="812.0" cy="449.8" r="1.43"/><circle cx="828.2" cy="449.8" r="1.39"/><circle cx="844.4" cy="449.8" r="1.33"/><circle cx="860.6" cy="449.8" r="1.27"/><circle cx="876.8" cy="449.8" r="1.19"/><circle cx="893.0" cy="449.8" r="1.10"/><circle cx="909.2" cy="449.8" r="1.00"/><circle cx="925.4" cy="449.8" r="0.89"/><circle cx="941.6" cy="449.8" r="0.77"/><circle cx="957.8" cy="449.8" r="0.64"/><circle cx="974.0" cy="449.8" r="0.50"/><circle cx="585.2" cy="466.1" r="0.48"/><circle cx="601.4" cy="466.1" r="0.60"/><circle cx="617.6" cy="466.1" r="0.72"/><circle cx="633.8" cy="466.1" r="0.83"/><circle cx="650.0" cy="466.1" r="0.92"/><circle cx="666.2" cy="466.1" r="1.01"/><circle cx="682.4" cy="466.1" r="1.08"/><circle cx="698.6" cy="466.1" r="1.14"/><circle cx="714.8" cy="466.1" r="1.19"/><circle cx="731.0" cy="466.1" r="1.22"/><circle cx="747.2" cy="466.1" r="1.25"/><circle cx="763.4" cy="466.1" r="1.26"/><circle cx="779.6" cy="466.1" r="1.26"/><circle cx="795.8" cy="466.1" r="1.25"/><circle cx="812.0" cy="466.1" r="1.22"/><circle cx="828.2" cy="466.1" r="1.18"/><circle cx="844.4" cy="466.1" r="1.13"/><circle cx="860.6" cy="466.1" r="1.07"/><circle cx="876.8" cy="466.1" r="0.99"/><circle cx="893.0" cy="466.1" r="0.91"/><circle cx="909.2" cy="466.1" r="0.81"/><circle cx="925.4" cy="466.1" r="0.70"/><circle cx="941.6" cy="466.1" r="0.58"/><circle cx="617.6" cy="482.3" r="0.51"/><circle cx="633.8" cy="482.3" r="0.62"/><circle cx="650.0" cy="482.3" r="0.71"/><circle cx="666.2" cy="482.3" r="0.80"/><circle cx="682.4" cy="482.3" r="0.87"/><circle cx="698.6" cy="482.3" r="0.92"/><circle cx="714.8" cy="482.3" r="0.97"/><circle cx="731.0" cy="482.3" r="1.01"/><circle cx="747.2" cy="482.3" r="1.03"/><circle cx="763.4" cy="482.3" r="1.04"/><circle cx="779.6" cy="482.3" r="1.04"/><circle cx="795.8" cy="482.3" r="1.03"/><circle cx="812.0" cy="482.3" r="1.00"/><circle cx="828.2" cy="482.3" r="0.96"/><circle cx="844.4" cy="482.3" r="0.91"/><circle cx="860.6" cy="482.3" r="0.85"/><circle cx="876.8" cy="482.3" r="0.78"/><circle cx="893.0" cy="482.3" r="0.70"/><circle cx="909.2" cy="482.3" r="0.60"/><circle cx="925.4" cy="482.3" r="0.49"/><circle cx="650.0" cy="498.6" r="0.49"/><circle cx="666.2" cy="498.6" r="0.57"/><circle cx="682.4" cy="498.6" r="0.64"/><circle cx="698.6" cy="498.6" r="0.70"/><circle cx="714.8" cy="498.6" r="0.75"/><circle cx="731.0" cy="498.6" r="0.78"/><circle cx="747.2" cy="498.6" r="0.80"/><circle cx="763.4" cy="498.6" r="0.81"/><circle cx="779.6" cy="498.6" r="0.81"/><circle cx="795.8" cy="498.6" r="0.80"/><circle cx="812.0" cy="498.6" r="0.78"/><circle cx="828.2" cy="498.6" r="0.74"/><circle cx="844.4" cy="498.6" r="0.69"/><circle cx="860.6" cy="498.6" r="0.63"/><circle cx="876.8" cy="498.6" r="0.56"/><circle cx="893.0" cy="498.6" r="0.47"/><circle cx="698.6" cy="514.8" r="0.46"/><circle cx="714.8" cy="514.8" r="0.51"/><circle cx="731.0" cy="514.8" r="0.54"/><circle cx="747.2" cy="514.8" r="0.56"/><circle cx="763.4" cy="514.8" r="0.57"/><circle cx="779.6" cy="514.8" r="0.57"/><circle cx="795.8" cy="514.8" r="0.56"/><circle cx="812.0" cy="514.8" r="0.54"/><circle cx="828.2" cy="514.8" r="0.50"/><circle cx="844.4" cy="514.8" r="0.45"/></g>
</svg>
<svg style="left:0;top:600px" width="1080" height="480" viewBox="0 600 1080 480">
<g fill="#ededed"><ellipse cx="183.0" cy="892.9" rx="5.0" ry="1.1" transform="rotate(-4.8 183.0 892.9)"/><ellipse cx="216.0" cy="885.0" rx="5.2" ry="1.2" transform="rotate(-5.7 216.0 885.0)"/><ellipse cx="249.0" cy="876.8" rx="5.0" ry="1.2" transform="rotate(-6.5 249.0 876.8)"/><ellipse cx="282.0" cy="868.4" rx="4.9" ry="1.1" transform="rotate(-7.4 282.0 868.4)"/><ellipse cx="199.5" cy="902.5" rx="6.0" ry="1.5" transform="rotate(-5.3 199.5 902.5)"/><ellipse cx="232.5" cy="894.4" rx="5.8" ry="1.4" transform="rotate(-6.1 232.5 894.4)"/><ellipse cx="265.5" cy="886.1" rx="5.6" ry="1.3" transform="rotate(-7.0 265.5 886.1)"/><ellipse cx="298.5" cy="877.6" rx="5.4" ry="1.3" transform="rotate(-7.8 298.5 877.6)"/><ellipse cx="331.5" cy="868.8" rx="5.2" ry="1.2" transform="rotate(-8.7 331.5 868.8)"/><ellipse cx="364.5" cy="859.8" rx="5.1" ry="1.2" transform="rotate(-9.5 364.5 859.8)"/><ellipse cx="397.5" cy="850.6" rx="4.9" ry="1.1" transform="rotate(-10.4 397.5 850.6)"/><ellipse cx="430.5" cy="841.1" rx="4.7" ry="1.0" transform="rotate(-11.2 430.5 841.1)"/><ellipse cx="183.0" cy="919.9" rx="6.2" ry="1.6" transform="rotate(-4.8 183.0 919.9)"/><ellipse cx="216.0" cy="912.0" rx="6.7" ry="1.7" transform="rotate(-5.7 216.0 912.0)"/><ellipse cx="249.0" cy="903.8" rx="6.5" ry="1.6" transform="rotate(-6.5 249.0 903.8)"/><ellipse cx="282.0" cy="895.4" rx="6.3" ry="1.6" transform="rotate(-7.4 282.0 895.4)"/><ellipse cx="315.0" cy="886.7" rx="6.1" ry="1.5" transform="rotate(-8.2 315.0 886.7)"/><ellipse cx="348.0" cy="877.8" rx="5.9" ry="1.4" transform="rotate(-9.1 348.0 877.8)"/><ellipse cx="381.0" cy="868.7" rx="5.7" ry="1.3" transform="rotate(-9.9 381.0 868.7)"/><ellipse cx="414.0" cy="859.3" rx="5.5" ry="1.3" transform="rotate(-10.8 414.0 859.3)"/><ellipse cx="447.0" cy="849.7" rx="5.3" ry="1.2" transform="rotate(-11.6 447.0 849.7)"/><ellipse cx="480.0" cy="839.9" rx="5.1" ry="1.1" transform="rotate(-12.5 480.0 839.9)"/><ellipse cx="513.0" cy="829.7" rx="4.9" ry="1.1" transform="rotate(-13.3 513.0 829.7)"/><ellipse cx="546.0" cy="819.4" rx="4.7" ry="1.0" transform="rotate(-14.2 546.0 819.4)"/><ellipse cx="166.5" cy="937.3" rx="5.0" ry="1.2" transform="rotate(-4.4 166.5 937.3)"/><ellipse cx="199.5" cy="929.5" rx="7.7" ry="2.0" transform="rotate(-5.3 199.5 929.5)"/><ellipse cx="232.5" cy="921.4" rx="7.5" ry="2.0" transform="rotate(-6.1 232.5 921.4)"/><ellipse cx="265.5" cy="913.1" rx="7.3" ry="1.9" transform="rotate(-7.0 265.5 913.1)"/><ellipse cx="298.5" cy="904.6" rx="7.0" ry="1.8" transform="rotate(-7.8 298.5 904.6)"/><ellipse cx="331.5" cy="895.8" rx="6.8" ry="1.7" transform="rotate(-8.7 331.5 895.8)"/><ellipse cx="364.5" cy="886.8" rx="6.6" ry="1.6" transform="rotate(-9.5 364.5 886.8)"/><ellipse cx="397.5" cy="877.6" rx="6.4" ry="1.6" transform="rotate(-10.4 397.5 877.6)"/><ellipse cx="430.5" cy="868.1" rx="6.2" ry="1.5" transform="rotate(-11.2 430.5 868.1)"/><ellipse cx="463.5" cy="858.3" rx="6.0" ry="1.4" transform="rotate(-12.1 463.5 858.3)"/><ellipse cx="496.5" cy="848.3" rx="5.8" ry="1.3" transform="rotate(-12.9 496.5 848.3)"/><ellipse cx="529.5" cy="838.1" rx="5.5" ry="1.3" transform="rotate(-13.8 529.5 838.1)"/><ellipse cx="562.5" cy="827.6" rx="5.3" ry="1.2" transform="rotate(-14.6 562.5 827.6)"/><ellipse cx="595.5" cy="816.9" rx="5.1" ry="1.1" transform="rotate(-15.5 595.5 816.9)"/><ellipse cx="628.5" cy="806.0" rx="4.9" ry="1.1" transform="rotate(-16.3 628.5 806.0)"/><ellipse cx="661.5" cy="794.8" rx="4.8" ry="1.0" transform="rotate(-17.2 661.5 794.8)"/><ellipse cx="694.5" cy="783.3" rx="4.6" ry="1.0" transform="rotate(-18.0 694.5 783.3)"/><ellipse cx="183.0" cy="946.9" rx="7.8" ry="2.1" transform="rotate(-4.8 183.0 946.9)"/><ellipse cx="216.0" cy="939.0" rx="8.6" ry="2.3" transform="rotate(-5.7 216.0 939.0)"/><ellipse cx="249.0" cy="930.8" rx="8.4" ry="2.3" transform="rotate(-6.5 249.0 930.8)"/><ellipse cx="282.0" cy="922.4" rx="8.1" ry="2.2" transform="rotate(-7.4 282.0 922.4)"/><ellipse cx="315.0" cy="913.7" rx="7.9" ry="2.1" transform="rotate(-8.2 315.0 913.7)"/><ellipse cx="348.0" cy="904.8" rx="7.7" ry="2.0" transform="rotate(-9.1 348.0 904.8)"/><ellipse cx="381.0" cy="895.7" rx="7.5" ry="1.9" transform="rotate(-9.9 381.0 895.7)"/><ellipse cx="414.0" cy="886.3" rx="7.2" ry="1.8" transform="rotate(-10.8 414.0 886.3)"/><ellipse cx="447.0" cy="876.7" rx="7.0" ry="1.7" transform="rotate(-11.6 447.0 876.7)"/><ellipse cx="480.0" cy="866.9" rx="6.8" ry="1.7" transform="rotate(-12.5 480.0 866.9)"/><ellipse cx="513.0" cy="856.7" rx="6.6" ry="1.6" transform="rotate(-13.3 513.0 856.7)"/><ellipse cx="546.0" cy="846.4" rx="6.3" ry="1.5" transform="rotate(-14.2 546.0 846.4)"/><ellipse cx="579.0" cy="835.8" rx="6.1" ry="1.4" transform="rotate(-15.0 579.0 835.8)"/><ellipse cx="612.0" cy="825.0" rx="5.9" ry="1.4" transform="rotate(-15.9 612.0 825.0)"/><ellipse cx="645.0" cy="813.9" rx="5.7" ry="1.3" transform="rotate(-16.7 645.0 813.9)"/><ellipse cx="678.0" cy="802.6" rx="5.4" ry="1.2" transform="rotate(-17.6 678.0 802.6)"/><ellipse cx="711.0" cy="791.0" rx="5.2" ry="1.1" transform="rotate(-18.4 711.0 791.0)"/><ellipse cx="744.0" cy="779.2" rx="5.0" ry="1.1" transform="rotate(-19.3 744.0 779.2)"/><ellipse cx="777.0" cy="767.2" rx="4.8" ry="1.0" transform="rotate(-20.1 777.0 767.2)"/><ellipse cx="810.0" cy="754.9" rx="4.6" ry="0.9" transform="rotate(-21.0 810.0 754.9)"/><ellipse cx="166.5" cy="964.3" rx="5.9" ry="1.5" transform="rotate(-4.4 166.5 964.3)"/><ellipse cx="199.5" cy="956.5" rx="9.8" ry="2.7" transform="rotate(-5.3 199.5 956.5)"/><ellipse cx="232.5" cy="948.4" rx="9.5" ry="2.6" transform="rotate(-6.1 232.5 948.4)"/><ellipse cx="265.5" cy="940.1" rx="9.3" ry="2.6" transform="rotate(-7.0 265.5 940.1)"/><ellipse cx="298.5" cy="931.6" rx="9.1" ry="2.5" transform="rotate(-7.8 298.5 931.6)"/><ellipse cx="331.5" cy="922.8" rx="8.9" ry="2.4" transform="rotate(-8.7 331.5 922.8)"/><ellipse cx="364.5" cy="913.8" rx="8.7" ry="2.3" transform="rotate(-9.5 364.5 913.8)"/><ellipse cx="397.5" cy="904.6" rx="8.4" ry="2.2" transform="rotate(-10.4 397.5 904.6)"/><ellipse cx="430.5" cy="895.1" rx="8.2" ry="2.1" transform="rotate(-11.2 430.5 895.1)"/><ellipse cx="463.5" cy="885.3" rx="8.0" ry="2.0" transform="rotate(-12.1 463.5 885.3)"/><ellipse cx="496.5" cy="875.3" rx="7.7" ry="2.0" transform="rotate(-12.9 496.5 875.3)"/><ellipse cx="529.5" cy="865.1" rx="7.5" ry="1.9" transform="rotate(-13.8 529.5 865.1)"/><ellipse cx="562.5" cy="854.6" rx="7.3" ry="1.8" transform="rotate(-14.6 562.5 854.6)"/><ellipse cx="595.5" cy="843.9" rx="7.0" ry="1.7" transform="rotate(-15.5 595.5 843.9)"/><ellipse cx="628.5" cy="833.0" rx="6.8" ry="1.6" transform="rotate(-16.3 628.5 833.0)"/><ellipse cx="661.5" cy="821.8" rx="6.5" ry="1.5" transform="rotate(-17.2 661.5 821.8)"/><ellipse cx="694.5" cy="810.3" rx="6.3" ry="1.4" transform="rotate(-18.0 694.5 810.3)"/><ellipse cx="727.5" cy="798.7" rx="6.0" ry="1.4" transform="rotate(-18.9 727.5 798.7)"/><ellipse cx="760.5" cy="786.8" rx="5.8" ry="1.3" transform="rotate(-19.7 760.5 786.8)"/><ellipse cx="793.5" cy="774.6" rx="5.6" ry="1.2" transform="rotate(-20.5 793.5 774.6)"/><ellipse cx="826.5" cy="762.2" rx="5.3" ry="1.1" transform="rotate(-21.4 826.5 762.2)"/><ellipse cx="859.5" cy="749.5" rx="5.1" ry="1.1" transform="rotate(-22.0 859.5 749.5)"/><ellipse cx="892.5" cy="736.7" rx="4.9" ry="1.0" transform="rotate(-22.0 892.5 736.7)"/><ellipse cx="925.5" cy="723.5" rx="4.6" ry="0.9" transform="rotate(-22.0 925.5 723.5)"/><ellipse cx="958.5" cy="710.2" rx="4.4" ry="0.9" transform="rotate(-22.0 958.5 710.2)"/><ellipse cx="183.0" cy="973.9" rx="9.6" ry="2.7" transform="rotate(-4.8 183.0 973.9)"/><ellipse cx="216.0" cy="966.0" rx="10.7" ry="3.0" transform="rotate(-5.7 216.0 966.0)"/><ellipse cx="249.0" cy="957.8" rx="10.5" ry="3.0" transform="rotate(-6.5 249.0 957.8)"/><ellipse cx="282.0" cy="949.4" rx="10.3" ry="2.9" transform="rotate(-7.4 282.0 949.4)"/><ellipse cx="315.0" cy="940.7" rx="10.1" ry="2.8" transform="rotate(-8.2 315.0 940.7)"/><ellipse cx="348.0" cy="931.8" rx="9.9" ry="2.7" transform="rotate(-9.1 348.0 931.8)"/><ellipse cx="381.0" cy="922.7" rx="9.7" ry="2.6" transform="rotate(-9.9 381.0 922.7)"/><ellipse cx="414.0" cy="913.3" rx="9.5" ry="2.5" transform="rotate(-10.8 414.0 913.3)"/><ellipse cx="447.0" cy="903.7" rx="9.2" ry="2.4" transform="rotate(-11.6 447.0 903.7)"/><ellipse cx="480.0" cy="893.9" rx="9.0" ry="2.4" transform="rotate(-12.5 480.0 893.9)"/><ellipse cx="513.0" cy="883.7" rx="8.8" ry="2.3" transform="rotate(-13.3 513.0 883.7)"/><ellipse cx="546.0" cy="873.4" rx="8.5" ry="2.2" transform="rotate(-14.2 546.0 873.4)"/><ellipse cx="579.0" cy="862.8" rx="8.3" ry="2.1" transform="rotate(-15.0 579.0 862.8)"/><ellipse cx="612.0" cy="852.0" rx="8.1" ry="2.0" transform="rotate(-15.9 612.0 852.0)"/><ellipse cx="645.0" cy="840.9" rx="7.8" ry="1.9" transform="rotate(-16.7 645.0 840.9)"/><ellipse cx="678.0" cy="829.6" rx="7.6" ry="1.8" transform="rotate(-17.6 678.0 829.6)"/><ellipse cx="711.0" cy="818.0" rx="7.3" ry="1.7" transform="rotate(-18.4 711.0 818.0)"/><ellipse cx="744.0" cy="806.2" rx="7.1" ry="1.7" transform="rotate(-19.3 744.0 806.2)"/><ellipse cx="777.0" cy="794.2" rx="6.8" ry="1.6" transform="rotate(-20.1 777.0 794.2)"/><ellipse cx="810.0" cy="781.9" rx="6.5" ry="1.5" transform="rotate(-21.0 810.0 781.9)"/><ellipse cx="843.0" cy="769.4" rx="6.3" ry="1.4" transform="rotate(-21.8 843.0 769.4)"/><ellipse cx="876.0" cy="756.6" rx="6.0" ry="1.3" transform="rotate(-22.0 876.0 756.6)"/><ellipse cx="909.0" cy="743.6" rx="5.7" ry="1.2" transform="rotate(-22.0 909.0 743.6)"/><ellipse cx="942.0" cy="730.4" rx="5.5" ry="1.1" transform="rotate(-22.0 942.0 730.4)"/><ellipse cx="975.0" cy="716.9" rx="5.2" ry="1.1" transform="rotate(-22.0 975.0 716.9)"/><ellipse cx="1008.0" cy="703.1" rx="5.0" ry="1.0" transform="rotate(-22.0 1008.0 703.1)"/><ellipse cx="1041.0" cy="689.2" rx="4.7" ry="0.9" transform="rotate(-22.0 1041.0 689.2)"/><ellipse cx="1074.0" cy="674.9" rx="4.6" ry="0.9" transform="rotate(-22.0 1074.0 674.9)"/><ellipse cx="166.5" cy="991.3" rx="6.7" ry="1.7" transform="rotate(-4.4 166.5 991.3)"/><ellipse cx="199.5" cy="983.5" rx="11.9" ry="3.4" transform="rotate(-5.3 199.5 983.5)"/><ellipse cx="232.5" cy="975.4" rx="11.7" ry="3.4" transform="rotate(-6.1 232.5 975.4)"/><ellipse cx="265.5" cy="967.1" rx="11.5" ry="3.3" transform="rotate(-7.0 265.5 967.1)"/><ellipse cx="298.5" cy="958.6" rx="11.3" ry="3.2" transform="rotate(-7.8 298.5 958.6)"/><ellipse cx="331.5" cy="949.8" rx="11.1" ry="3.1" transform="rotate(-8.7 331.5 949.8)"/><ellipse cx="364.5" cy="940.8" rx="10.9" ry="3.0" transform="rotate(-9.5 364.5 940.8)"/><ellipse cx="397.5" cy="931.6" rx="10.7" ry="2.9" transform="rotate(-10.4 397.5 931.6)"/><ellipse cx="430.5" cy="922.1" rx="10.5" ry="2.9" transform="rotate(-11.2 430.5 922.1)"/><ellipse cx="463.5" cy="912.3" rx="10.3" ry="2.8" transform="rotate(-12.1 463.5 912.3)"/><ellipse cx="496.5" cy="902.3" rx="10.1" ry="2.7" transform="rotate(-12.9 496.5 902.3)"/><ellipse cx="529.5" cy="892.1" rx="9.9" ry="2.6" transform="rotate(-13.8 529.5 892.1)"/><ellipse cx="562.5" cy="881.6" rx="9.7" ry="2.5" transform="rotate(-14.6 562.5 881.6)"/><ellipse cx="595.5" cy="870.9" rx="9.4" ry="2.4" transform="rotate(-15.5 595.5 870.9)"/><ellipse cx="628.5" cy="860.0" rx="9.2" ry="2.3" transform="rotate(-16.3 628.5 860.0)"/><ellipse cx="661.5" cy="848.8" rx="9.0" ry="2.2" transform="rotate(-17.2 661.5 848.8)"/><ellipse cx="694.5" cy="837.3" rx="8.7" ry="2.2" transform="rotate(-18.0 694.5 837.3)"/><ellipse cx="727.5" cy="825.7" rx="8.5" ry="2.1" transform="rotate(-18.9 727.5 825.7)"/><ellipse cx="760.5" cy="813.8" rx="8.2" ry="2.0" transform="rotate(-19.7 760.5 813.8)"/><ellipse cx="793.5" cy="801.6" rx="8.0" ry="1.9" transform="rotate(-20.5 793.5 801.6)"/><ellipse cx="826.5" cy="789.2" rx="7.7" ry="1.8" transform="rotate(-21.4 826.5 789.2)"/><ellipse cx="859.5" cy="776.5" rx="7.4" ry="1.7" transform="rotate(-22.0 859.5 776.5)"/><ellipse cx="892.5" cy="763.7" rx="7.1" ry="1.6" transform="rotate(-22.0 892.5 763.7)"/><ellipse cx="925.5" cy="750.5" rx="6.9" ry="1.5" transform="rotate(-22.0 925.5 750.5)"/><ellipse cx="958.5" cy="737.2" rx="6.6" ry="1.4" transform="rotate(-22.0 958.5 737.2)"/><ellipse cx="991.5" cy="723.5" rx="6.3" ry="1.3" transform="rotate(-22.0 991.5 723.5)"/><ellipse cx="1024.5" cy="709.7" rx="6.0" ry="1.3" transform="rotate(-22.0 1024.5 709.7)"/><ellipse cx="1057.5" cy="695.6" rx="5.8" ry="1.2" transform="rotate(-22.0 1057.5 695.6)"/><ellipse cx="1090.5" cy="681.2" rx="5.8" ry="1.2" transform="rotate(-22.0 1090.5 681.2)"/><ellipse cx="183.0" cy="1000.9" rx="11.2" ry="3.2" transform="rotate(-4.8 183.0 1000.9)"/><ellipse cx="216.0" cy="993.0" rx="12.8" ry="3.7" transform="rotate(-5.7 216.0 993.0)"/><ellipse cx="249.0" cy="984.8" rx="12.6" ry="3.6" transform="rotate(-6.5 249.0 984.8)"/><ellipse cx="282.0" cy="976.4" rx="12.4" ry="3.6" transform="rotate(-7.4 282.0 976.4)"/><ellipse cx="315.0" cy="967.7" rx="12.3" ry="3.5" transform="rotate(-8.2 315.0 967.7)"/><ellipse cx="348.0" cy="958.8" rx="12.1" ry="3.4" transform="rotate(-9.1 348.0 958.8)"/><ellipse cx="381.0" cy="949.7" rx="11.9" ry="3.3" transform="rotate(-9.9 381.0 949.7)"/><ellipse cx="414.0" cy="940.3" rx="11.7" ry="3.2" transform="rotate(-10.8 414.0 940.3)"/><ellipse cx="447.0" cy="930.7" rx="11.6" ry="3.2" transform="rotate(-11.6 447.0 930.7)"/><ellipse cx="480.0" cy="920.9" rx="11.4" ry="3.1" transform="rotate(-12.5 480.0 920.9)"/><ellipse cx="513.0" cy="910.7" rx="11.2" ry="3.0" transform="rotate(-13.3 513.0 910.7)"/><ellipse cx="546.0" cy="900.4" rx="11.0" ry="2.9" transform="rotate(-14.2 546.0 900.4)"/><ellipse cx="579.0" cy="889.8" rx="10.8" ry="2.8" transform="rotate(-15.0 579.0 889.8)"/><ellipse cx="612.0" cy="879.0" rx="10.6" ry="2.7" transform="rotate(-15.9 612.0 879.0)"/><ellipse cx="645.0" cy="867.9" rx="10.4" ry="2.7" transform="rotate(-16.7 645.0 867.9)"/><ellipse cx="678.0" cy="856.6" rx="10.2" ry="2.6" transform="rotate(-17.6 678.0 856.6)"/><ellipse cx="711.0" cy="845.0" rx="9.9" ry="2.5" transform="rotate(-18.4 711.0 845.0)"/><ellipse cx="744.0" cy="833.2" rx="9.7" ry="2.4" transform="rotate(-19.3 744.0 833.2)"/><ellipse cx="777.0" cy="821.2" rx="9.5" ry="2.3" transform="rotate(-20.1 777.0 821.2)"/><ellipse cx="810.0" cy="808.9" rx="9.2" ry="2.2" transform="rotate(-21.0 810.0 808.9)"/><ellipse cx="843.0" cy="796.4" rx="9.0" ry="2.1" transform="rotate(-21.8 843.0 796.4)"/><ellipse cx="876.0" cy="783.6" rx="8.7" ry="2.0" transform="rotate(-22.0 876.0 783.6)"/><ellipse cx="909.0" cy="770.6" rx="8.5" ry="2.0" transform="rotate(-22.0 909.0 770.6)"/><ellipse cx="942.0" cy="757.4" rx="8.2" ry="1.9" transform="rotate(-22.0 942.0 757.4)"/><ellipse cx="975.0" cy="743.9" rx="7.9" ry="1.8" transform="rotate(-22.0 975.0 743.9)"/><ellipse cx="1008.0" cy="730.1" rx="7.6" ry="1.7" transform="rotate(-22.0 1008.0 730.1)"/><ellipse cx="1041.0" cy="716.2" rx="7.3" ry="1.6" transform="rotate(-22.0 1041.0 716.2)"/><ellipse cx="1074.0" cy="701.9" rx="7.2" ry="1.6" transform="rotate(-22.0 1074.0 701.9)"/><ellipse cx="166.5" cy="1018.3" rx="7.5" ry="2.0" transform="rotate(-4.4 166.5 1018.3)"/><ellipse cx="199.5" cy="1010.5" rx="13.7" ry="4.0" transform="rotate(-5.3 199.5 1010.5)"/><ellipse cx="232.5" cy="1002.4" rx="13.5" ry="3.9" transform="rotate(-6.1 232.5 1002.4)"/><ellipse cx="265.5" cy="994.1" rx="13.4" ry="3.9" transform="rotate(-7.0 265.5 994.1)"/><ellipse cx="298.5" cy="985.6" rx="13.2" ry="3.8" transform="rotate(-7.8 298.5 985.6)"/><ellipse cx="331.5" cy="976.8" rx="13.1" ry="3.7" transform="rotate(-8.7 331.5 976.8)"/><ellipse cx="364.5" cy="967.8" rx="12.9" ry="3.7" transform="rotate(-9.5 364.5 967.8)"/><ellipse cx="397.5" cy="958.6" rx="12.8" ry="3.6" transform="rotate(-10.4 397.5 958.6)"/><ellipse cx="430.5" cy="949.1" rx="12.6" ry="3.5" transform="rotate(-11.2 430.5 949.1)"/><ellipse cx="463.5" cy="939.3" rx="12.5" ry="3.4" transform="rotate(-12.1 463.5 939.3)"/><ellipse cx="496.5" cy="929.3" rx="12.3" ry="3.4" transform="rotate(-12.9 496.5 929.3)"/><ellipse cx="529.5" cy="919.1" rx="12.1" ry="3.3" transform="rotate(-13.8 529.5 919.1)"/><ellipse cx="562.5" cy="908.6" rx="12.0" ry="3.2" transform="rotate(-14.6 562.5 908.6)"/><ellipse cx="595.5" cy="897.9" rx="11.8" ry="3.1" transform="rotate(-15.5 595.5 897.9)"/><ellipse cx="628.5" cy="887.0" rx="11.6" ry="3.0" transform="rotate(-16.3 628.5 887.0)"/><ellipse cx="661.5" cy="875.8" rx="11.5" ry="3.0" transform="rotate(-17.2 661.5 875.8)"/><ellipse cx="694.5" cy="864.3" rx="11.3" ry="2.9" transform="rotate(-18.0 694.5 864.3)"/><ellipse cx="727.5" cy="852.7" rx="11.1" ry="2.8" transform="rotate(-18.9 727.5 852.7)"/><ellipse cx="760.5" cy="840.8" rx="10.9" ry="2.7" transform="rotate(-19.7 760.5 840.8)"/><ellipse cx="793.5" cy="828.6" rx="10.7" ry="2.6" transform="rotate(-20.5 793.5 828.6)"/><ellipse cx="826.5" cy="816.2" rx="10.5" ry="2.6" transform="rotate(-21.4 826.5 816.2)"/><ellipse cx="859.5" cy="803.5" rx="10.3" ry="2.5" transform="rotate(-22.0 859.5 803.5)"/><ellipse cx="892.5" cy="790.7" rx="10.1" ry="2.4" transform="rotate(-22.0 892.5 790.7)"/><ellipse cx="925.5" cy="777.5" rx="9.8" ry="2.3" transform="rotate(-22.0 925.5 777.5)"/><ellipse cx="958.5" cy="764.2" rx="9.6" ry="2.2" transform="rotate(-22.0 958.5 764.2)"/><ellipse cx="991.5" cy="750.5" rx="9.3" ry="2.1" transform="rotate(-22.0 991.5 750.5)"/><ellipse cx="1024.5" cy="736.7" rx="9.1" ry="2.0" transform="rotate(-22.0 1024.5 736.7)"/><ellipse cx="1057.5" cy="722.6" rx="8.9" ry="2.0" transform="rotate(-22.0 1057.5 722.6)"/><ellipse cx="1090.5" cy="708.2" rx="8.9" ry="2.0" transform="rotate(-22.0 1090.5 708.2)"/><ellipse cx="183.0" cy="1027.9" rx="12.4" ry="3.6" transform="rotate(-4.8 183.0 1027.9)"/><ellipse cx="216.0" cy="1020.0" rx="14.2" ry="4.2" transform="rotate(-5.7 216.0 1020.0)"/><ellipse cx="249.0" cy="1011.8" rx="14.1" ry="4.1" transform="rotate(-6.5 249.0 1011.8)"/><ellipse cx="282.0" cy="1003.4" rx="14.0" ry="4.1" transform="rotate(-7.4 282.0 1003.4)"/><ellipse cx="315.0" cy="994.7" rx="13.9" ry="4.0" transform="rotate(-8.2 315.0 994.7)"/><ellipse cx="348.0" cy="985.8" rx="13.7" ry="3.9" transform="rotate(-9.1 348.0 985.8)"/><ellipse cx="381.0" cy="976.7" rx="13.6" ry="3.9" transform="rotate(-9.9 381.0 976.7)"/><ellipse cx="414.0" cy="967.3" rx="13.5" ry="3.8" transform="rotate(-10.8 414.0 967.3)"/><ellipse cx="447.0" cy="957.7" rx="13.3" ry="3.7" transform="rotate(-11.6 447.0 957.7)"/><ellipse cx="480.0" cy="947.9" rx="13.2" ry="3.6" transform="rotate(-12.5 480.0 947.9)"/><ellipse cx="513.0" cy="937.7" rx="13.1" ry="3.6" transform="rotate(-13.3 513.0 937.7)"/><ellipse cx="546.0" cy="927.4" rx="12.9" ry="3.5" transform="rotate(-14.2 546.0 927.4)"/><ellipse cx="579.0" cy="916.8" rx="12.8" ry="3.4" transform="rotate(-15.0 579.0 916.8)"/><ellipse cx="612.0" cy="906.0" rx="12.6" ry="3.4" transform="rotate(-15.9 612.0 906.0)"/><ellipse cx="645.0" cy="894.9" rx="12.5" ry="3.3" transform="rotate(-16.7 645.0 894.9)"/><ellipse cx="678.0" cy="883.6" rx="12.4" ry="3.2" transform="rotate(-17.6 678.0 883.6)"/><ellipse cx="711.0" cy="872.0" rx="12.2" ry="3.1" transform="rotate(-18.4 711.0 872.0)"/><ellipse cx="744.0" cy="860.2" rx="12.1" ry="3.1" transform="rotate(-19.3 744.0 860.2)"/><ellipse cx="777.0" cy="848.2" rx="11.9" ry="3.0" transform="rotate(-20.1 777.0 848.2)"/><ellipse cx="810.0" cy="835.9" rx="11.7" ry="2.9" transform="rotate(-21.0 810.0 835.9)"/><ellipse cx="843.0" cy="823.4" rx="11.6" ry="2.9" transform="rotate(-21.8 843.0 823.4)"/><ellipse cx="876.0" cy="810.6" rx="11.4" ry="2.8" transform="rotate(-22.0 876.0 810.6)"/><ellipse cx="909.0" cy="797.6" rx="11.2" ry="2.7" transform="rotate(-22.0 909.0 797.6)"/><ellipse cx="942.0" cy="784.4" rx="11.1" ry="2.6" transform="rotate(-22.0 942.0 784.4)"/><ellipse cx="975.0" cy="770.9" rx="10.9" ry="2.5" transform="rotate(-22.0 975.0 770.9)"/><ellipse cx="1008.0" cy="757.1" rx="10.7" ry="2.5" transform="rotate(-22.0 1008.0 757.1)"/><ellipse cx="1041.0" cy="743.2" rx="10.5" ry="2.4" transform="rotate(-22.0 1041.0 743.2)"/><ellipse cx="1074.0" cy="728.9" rx="10.4" ry="2.4" transform="rotate(-22.0 1074.0 728.9)"/><ellipse cx="166.5" cy="1045.3" rx="7.9" ry="2.1" transform="rotate(-4.4 166.5 1045.3)"/><ellipse cx="199.5" cy="1037.5" rx="14.7" ry="4.4" transform="rotate(-5.3 199.5 1037.5)"/><ellipse cx="232.5" cy="1029.4" rx="14.6" ry="4.3" transform="rotate(-6.1 232.5 1029.4)"/><ellipse cx="265.5" cy="1021.1" rx="14.5" ry="4.2" transform="rotate(-7.0 265.5 1021.1)"/><ellipse cx="298.5" cy="1012.6" rx="14.4" ry="4.2" transform="rotate(-7.8 298.5 1012.6)"/><ellipse cx="331.5" cy="1003.8" rx="14.2" ry="4.1" transform="rotate(-8.7 331.5 1003.8)"/><ellipse cx="364.5" cy="994.8" rx="14.1" ry="4.0" transform="rotate(-9.5 364.5 994.8)"/><ellipse cx="397.5" cy="985.6" rx="14.0" ry="4.0" transform="rotate(-10.4 397.5 985.6)"/><ellipse cx="430.5" cy="976.1" rx="13.9" ry="3.9" transform="rotate(-11.2 430.5 976.1)"/><ellipse cx="463.5" cy="966.3" rx="13.8" ry="3.8" transform="rotate(-12.1 463.5 966.3)"/><ellipse cx="496.5" cy="956.3" rx="13.7" ry="3.8" transform="rotate(-12.9 496.5 956.3)"/><ellipse cx="529.5" cy="946.1" rx="13.5" ry="3.7" transform="rotate(-13.8 529.5 946.1)"/><ellipse cx="562.5" cy="935.6" rx="13.4" ry="3.6" transform="rotate(-14.6 562.5 935.6)"/><ellipse cx="595.5" cy="924.9" rx="13.3" ry="3.6" transform="rotate(-15.5 595.5 924.9)"/><ellipse cx="628.5" cy="914.0" rx="13.2" ry="3.5" transform="rotate(-16.3 628.5 914.0)"/><ellipse cx="661.5" cy="902.8" rx="13.1" ry="3.4" transform="rotate(-17.2 661.5 902.8)"/><ellipse cx="694.5" cy="891.3" rx="13.0" ry="3.4" transform="rotate(-18.0 694.5 891.3)"/><ellipse cx="727.5" cy="879.7" rx="12.8" ry="3.3" transform="rotate(-18.9 727.5 879.7)"/><ellipse cx="760.5" cy="867.8" rx="12.7" ry="3.2" transform="rotate(-19.7 760.5 867.8)"/><ellipse cx="793.5" cy="855.6" rx="12.6" ry="3.2" transform="rotate(-20.5 793.5 855.6)"/><ellipse cx="826.5" cy="843.2" rx="12.5" ry="3.1" transform="rotate(-21.4 826.5 843.2)"/><ellipse cx="859.5" cy="830.5" rx="12.3" ry="3.0" transform="rotate(-22.0 859.5 830.5)"/><ellipse cx="892.5" cy="817.7" rx="12.2" ry="3.0" transform="rotate(-22.0 892.5 817.7)"/><ellipse cx="925.5" cy="804.5" rx="12.1" ry="2.9" transform="rotate(-22.0 925.5 804.5)"/><ellipse cx="958.5" cy="791.2" rx="12.0" ry="2.8" transform="rotate(-22.0 958.5 791.2)"/><ellipse cx="991.5" cy="777.5" rx="11.8" ry="2.8" transform="rotate(-22.0 991.5 777.5)"/><ellipse cx="1024.5" cy="763.7" rx="11.7" ry="2.7" transform="rotate(-22.0 1024.5 763.7)"/><ellipse cx="1057.5" cy="749.6" rx="11.6" ry="2.6" transform="rotate(-22.0 1057.5 749.6)"/><ellipse cx="1090.5" cy="735.2" rx="11.6" ry="2.6" transform="rotate(-22.0 1090.5 735.2)"/><ellipse cx="183.0" cy="1054.9" rx="12.8" ry="3.7" transform="rotate(-4.8 183.0 1054.9)"/><ellipse cx="216.0" cy="1047.0" rx="14.8" ry="4.4" transform="rotate(-5.7 216.0 1047.0)"/><ellipse cx="249.0" cy="1038.8" rx="14.7" ry="4.3" transform="rotate(-6.5 249.0 1038.8)"/><ellipse cx="282.0" cy="1030.4" rx="14.6" ry="4.2" transform="rotate(-7.4 282.0 1030.4)"/><ellipse cx="315.0" cy="1021.7" rx="14.4" ry="4.2" transform="rotate(-8.2 315.0 1021.7)"/><ellipse cx="348.0" cy="1012.8" rx="14.3" ry="4.1" transform="rotate(-9.1 348.0 1012.8)"/><ellipse cx="381.0" cy="1003.7" rx="14.2" ry="4.1" transform="rotate(-9.9 381.0 1003.7)"/><ellipse cx="414.0" cy="994.3" rx="14.1" ry="4.0" transform="rotate(-10.8 414.0 994.3)"/><ellipse cx="447.0" cy="984.7" rx="14.0" ry="3.9" transform="rotate(-11.6 447.0 984.7)"/><ellipse cx="480.0" cy="974.9" rx="13.9" ry="3.9" transform="rotate(-12.5 480.0 974.9)"/><ellipse cx="513.0" cy="964.7" rx="13.8" ry="3.8" transform="rotate(-13.3 513.0 964.7)"/><ellipse cx="546.0" cy="954.4" rx="13.7" ry="3.7" transform="rotate(-14.2 546.0 954.4)"/><ellipse cx="579.0" cy="943.8" rx="13.6" ry="3.7" transform="rotate(-15.0 579.0 943.8)"/><ellipse cx="612.0" cy="933.0" rx="13.5" ry="3.6" transform="rotate(-15.9 612.0 933.0)"/><ellipse cx="645.0" cy="921.9" rx="13.3" ry="3.5" transform="rotate(-16.7 645.0 921.9)"/><ellipse cx="678.0" cy="910.6" rx="13.2" ry="3.5" transform="rotate(-17.6 678.0 910.6)"/><ellipse cx="711.0" cy="899.0" rx="13.1" ry="3.4" transform="rotate(-18.4 711.0 899.0)"/><ellipse cx="744.0" cy="887.2" rx="13.0" ry="3.3" transform="rotate(-19.3 744.0 887.2)"/><ellipse cx="777.0" cy="875.2" rx="12.9" ry="3.3" transform="rotate(-20.1 777.0 875.2)"/><ellipse cx="810.0" cy="862.9" rx="12.8" ry="3.2" transform="rotate(-21.0 810.0 862.9)"/><ellipse cx="843.0" cy="850.4" rx="12.7" ry="3.2" transform="rotate(-21.8 843.0 850.4)"/><ellipse cx="876.0" cy="837.6" rx="12.6" ry="3.1" transform="rotate(-22.0 876.0 837.6)"/><ellipse cx="909.0" cy="824.6" rx="12.5" ry="3.0" transform="rotate(-22.0 909.0 824.6)"/><ellipse cx="942.0" cy="811.4" rx="12.4" ry="3.0" transform="rotate(-22.0 942.0 811.4)"/><ellipse cx="975.0" cy="797.9" rx="12.2" ry="2.9" transform="rotate(-22.0 975.0 797.9)"/><ellipse cx="1008.0" cy="784.1" rx="12.1" ry="2.8" transform="rotate(-22.0 1008.0 784.1)"/><ellipse cx="1041.0" cy="770.2" rx="12.0" ry="2.8" transform="rotate(-22.0 1041.0 770.2)"/><ellipse cx="1074.0" cy="755.9" rx="12.0" ry="2.8" transform="rotate(-22.0 1074.0 755.9)"/><ellipse cx="166.5" cy="1072.3" rx="7.9" ry="2.1" transform="rotate(-4.4 166.5 1072.3)"/><ellipse cx="199.5" cy="1064.5" rx="14.7" ry="4.4" transform="rotate(-5.3 199.5 1064.5)"/><ellipse cx="232.5" cy="1056.4" rx="14.6" ry="4.3" transform="rotate(-6.1 232.5 1056.4)"/><ellipse cx="265.5" cy="1048.1" rx="14.5" ry="4.2" transform="rotate(-7.0 265.5 1048.1)"/><ellipse cx="298.5" cy="1039.6" rx="14.4" ry="4.2" transform="rotate(-7.8 298.5 1039.6)"/><ellipse cx="331.5" cy="1030.8" rx="14.2" ry="4.1" transform="rotate(-8.7 331.5 1030.8)"/><ellipse cx="364.5" cy="1021.8" rx="14.1" ry="4.0" transform="rotate(-9.5 364.5 1021.8)"/><ellipse cx="397.5" cy="1012.6" rx="14.0" ry="4.0" transform="rotate(-10.4 397.5 1012.6)"/><ellipse cx="430.5" cy="1003.1" rx="13.9" ry="3.9" transform="rotate(-11.2 430.5 1003.1)"/><ellipse cx="463.5" cy="993.3" rx="13.8" ry="3.8" transform="rotate(-12.1 463.5 993.3)"/><ellipse cx="496.5" cy="983.3" rx="13.7" ry="3.8" transform="rotate(-12.9 496.5 983.3)"/><ellipse cx="529.5" cy="973.1" rx="13.5" ry="3.7" transform="rotate(-13.8 529.5 973.1)"/><ellipse cx="562.5" cy="962.6" rx="13.4" ry="3.6" transform="rotate(-14.6 562.5 962.6)"/><ellipse cx="595.5" cy="951.9" rx="13.3" ry="3.6" transform="rotate(-15.5 595.5 951.9)"/><ellipse cx="628.5" cy="941.0" rx="13.2" ry="3.5" transform="rotate(-16.3 628.5 941.0)"/><ellipse cx="661.5" cy="929.8" rx="13.1" ry="3.4" transform="rotate(-17.2 661.5 929.8)"/><ellipse cx="694.5" cy="918.3" rx="13.0" ry="3.4" transform="rotate(-18.0 694.5 918.3)"/><ellipse cx="727.5" cy="906.7" rx="12.8" ry="3.3" transform="rotate(-18.9 727.5 906.7)"/><ellipse cx="760.5" cy="894.8" rx="12.7" ry="3.2" transform="rotate(-19.7 760.5 894.8)"/><ellipse cx="793.5" cy="882.6" rx="12.6" ry="3.2" transform="rotate(-20.5 793.5 882.6)"/><ellipse cx="826.5" cy="870.2" rx="12.5" ry="3.1" transform="rotate(-21.4 826.5 870.2)"/><ellipse cx="859.5" cy="857.5" rx="12.3" ry="3.0" transform="rotate(-22.0 859.5 857.5)"/><ellipse cx="892.5" cy="844.7" rx="12.2" ry="3.0" transform="rotate(-22.0 892.5 844.7)"/><ellipse cx="925.5" cy="831.5" rx="12.1" ry="2.9" transform="rotate(-22.0 925.5 831.5)"/><ellipse cx="958.5" cy="818.2" rx="12.0" ry="2.8" transform="rotate(-22.0 958.5 818.2)"/><ellipse cx="991.5" cy="804.5" rx="11.8" ry="2.8" transform="rotate(-22.0 991.5 804.5)"/><ellipse cx="1024.5" cy="790.7" rx="11.7" ry="2.7" transform="rotate(-22.0 1024.5 790.7)"/><ellipse cx="1057.5" cy="776.6" rx="11.6" ry="2.6" transform="rotate(-22.0 1057.5 776.6)"/><ellipse cx="1090.5" cy="762.2" rx="11.6" ry="2.6" transform="rotate(-22.0 1090.5 762.2)"/><ellipse cx="183.0" cy="1081.9" rx="12.4" ry="3.6" transform="rotate(-4.8 183.0 1081.9)"/><ellipse cx="216.0" cy="1074.0" rx="14.2" ry="4.2" transform="rotate(-5.7 216.0 1074.0)"/><ellipse cx="249.0" cy="1065.8" rx="14.1" ry="4.1" transform="rotate(-6.5 249.0 1065.8)"/><ellipse cx="282.0" cy="1057.4" rx="14.0" ry="4.1" transform="rotate(-7.4 282.0 1057.4)"/><ellipse cx="315.0" cy="1048.7" rx="13.9" ry="4.0" transform="rotate(-8.2 315.0 1048.7)"/><ellipse cx="348.0" cy="1039.8" rx="13.7" ry="3.9" transform="rotate(-9.1 348.0 1039.8)"/><ellipse cx="381.0" cy="1030.7" rx="13.6" ry="3.9" transform="rotate(-9.9 381.0 1030.7)"/><ellipse cx="414.0" cy="1021.3" rx="13.5" ry="3.8" transform="rotate(-10.8 414.0 1021.3)"/><ellipse cx="447.0" cy="1011.7" rx="13.3" ry="3.7" transform="rotate(-11.6 447.0 1011.7)"/><ellipse cx="480.0" cy="1001.9" rx="13.2" ry="3.6" transform="rotate(-12.5 480.0 1001.9)"/><ellipse cx="513.0" cy="991.7" rx="13.1" ry="3.6" transform="rotate(-13.3 513.0 991.7)"/><ellipse cx="546.0" cy="981.4" rx="12.9" ry="3.5" transform="rotate(-14.2 546.0 981.4)"/><ellipse cx="579.0" cy="970.8" rx="12.8" ry="3.4" transform="rotate(-15.0 579.0 970.8)"/><ellipse cx="612.0" cy="960.0" rx="12.6" ry="3.4" transform="rotate(-15.9 612.0 960.0)"/><ellipse cx="645.0" cy="948.9" rx="12.5" ry="3.3" transform="rotate(-16.7 645.0 948.9)"/><ellipse cx="678.0" cy="937.6" rx="12.4" ry="3.2" transform="rotate(-17.6 678.0 937.6)"/><ellipse cx="711.0" cy="926.0" rx="12.2" ry="3.1" transform="rotate(-18.4 711.0 926.0)"/><ellipse cx="744.0" cy="914.2" rx="12.1" ry="3.1" transform="rotate(-19.3 744.0 914.2)"/><ellipse cx="777.0" cy="902.2" rx="11.9" ry="3.0" transform="rotate(-20.1 777.0 902.2)"/><ellipse cx="810.0" cy="889.9" rx="11.7" ry="2.9" transform="rotate(-21.0 810.0 889.9)"/><ellipse cx="843.0" cy="877.4" rx="11.6" ry="2.9" transform="rotate(-21.8 843.0 877.4)"/><ellipse cx="876.0" cy="864.6" rx="11.4" ry="2.8" transform="rotate(-22.0 876.0 864.6)"/><ellipse cx="909.0" cy="851.6" rx="11.2" ry="2.7" transform="rotate(-22.0 909.0 851.6)"/><ellipse cx="942.0" cy="838.4" rx="11.1" ry="2.6" transform="rotate(-22.0 942.0 838.4)"/><ellipse cx="975.0" cy="824.9" rx="10.9" ry="2.5" transform="rotate(-22.0 975.0 824.9)"/><ellipse cx="1008.0" cy="811.1" rx="10.7" ry="2.5" transform="rotate(-22.0 1008.0 811.1)"/><ellipse cx="1041.0" cy="797.2" rx="10.5" ry="2.4" transform="rotate(-22.0 1041.0 797.2)"/><ellipse cx="1074.0" cy="782.9" rx="10.4" ry="2.4" transform="rotate(-22.0 1074.0 782.9)"/><ellipse cx="199.5" cy="1091.5" rx="13.7" ry="4.0" transform="rotate(-5.3 199.5 1091.5)"/><ellipse cx="232.5" cy="1083.4" rx="13.5" ry="3.9" transform="rotate(-6.1 232.5 1083.4)"/><ellipse cx="265.5" cy="1075.1" rx="13.4" ry="3.9" transform="rotate(-7.0 265.5 1075.1)"/><ellipse cx="298.5" cy="1066.6" rx="13.2" ry="3.8" transform="rotate(-7.8 298.5 1066.6)"/><ellipse cx="331.5" cy="1057.8" rx="13.1" ry="3.7" transform="rotate(-8.7 331.5 1057.8)"/><ellipse cx="364.5" cy="1048.8" rx="12.9" ry="3.7" transform="rotate(-9.5 364.5 1048.8)"/><ellipse cx="397.5" cy="1039.6" rx="12.8" ry="3.6" transform="rotate(-10.4 397.5 1039.6)"/><ellipse cx="430.5" cy="1030.1" rx="12.6" ry="3.5" transform="rotate(-11.2 430.5 1030.1)"/><ellipse cx="463.5" cy="1020.3" rx="12.5" ry="3.4" transform="rotate(-12.1 463.5 1020.3)"/><ellipse cx="496.5" cy="1010.3" rx="12.3" ry="3.4" transform="rotate(-12.9 496.5 1010.3)"/><ellipse cx="529.5" cy="1000.1" rx="12.1" ry="3.3" transform="rotate(-13.8 529.5 1000.1)"/><ellipse cx="562.5" cy="989.6" rx="12.0" ry="3.2" transform="rotate(-14.6 562.5 989.6)"/><ellipse cx="595.5" cy="978.9" rx="11.8" ry="3.1" transform="rotate(-15.5 595.5 978.9)"/><ellipse cx="628.5" cy="968.0" rx="11.6" ry="3.0" transform="rotate(-16.3 628.5 968.0)"/><ellipse cx="661.5" cy="956.8" rx="11.5" ry="3.0" transform="rotate(-17.2 661.5 956.8)"/><ellipse cx="694.5" cy="945.3" rx="11.3" ry="2.9" transform="rotate(-18.0 694.5 945.3)"/><ellipse cx="727.5" cy="933.7" rx="11.1" ry="2.8" transform="rotate(-18.9 727.5 933.7)"/><ellipse cx="760.5" cy="921.8" rx="10.9" ry="2.7" transform="rotate(-19.7 760.5 921.8)"/><ellipse cx="793.5" cy="909.6" rx="10.7" ry="2.6" transform="rotate(-20.5 793.5 909.6)"/><ellipse cx="826.5" cy="897.2" rx="10.5" ry="2.6" transform="rotate(-21.4 826.5 897.2)"/><ellipse cx="859.5" cy="884.5" rx="10.3" ry="2.5" transform="rotate(-22.0 859.5 884.5)"/><ellipse cx="892.5" cy="871.7" rx="10.1" ry="2.4" transform="rotate(-22.0 892.5 871.7)"/><ellipse cx="925.5" cy="858.5" rx="9.8" ry="2.3" transform="rotate(-22.0 925.5 858.5)"/><ellipse cx="958.5" cy="845.2" rx="9.6" ry="2.2" transform="rotate(-22.0 958.5 845.2)"/><ellipse cx="991.5" cy="831.5" rx="9.3" ry="2.1" transform="rotate(-22.0 991.5 831.5)"/><ellipse cx="1024.5" cy="817.7" rx="9.1" ry="2.0" transform="rotate(-22.0 1024.5 817.7)"/><ellipse cx="1057.5" cy="803.6" rx="8.9" ry="2.0" transform="rotate(-22.0 1057.5 803.6)"/><ellipse cx="1090.5" cy="789.2" rx="8.9" ry="2.0" transform="rotate(-22.0 1090.5 789.2)"/><ellipse cx="249.0" cy="1092.8" rx="12.6" ry="3.6" transform="rotate(-6.5 249.0 1092.8)"/><ellipse cx="282.0" cy="1084.4" rx="12.4" ry="3.6" transform="rotate(-7.4 282.0 1084.4)"/><ellipse cx="315.0" cy="1075.7" rx="12.3" ry="3.5" transform="rotate(-8.2 315.0 1075.7)"/><ellipse cx="348.0" cy="1066.8" rx="12.1" ry="3.4" transform="rotate(-9.1 348.0 1066.8)"/><ellipse cx="381.0" cy="1057.7" rx="11.9" ry="3.3" transform="rotate(-9.9 381.0 1057.7)"/><ellipse cx="414.0" cy="1048.3" rx="11.7" ry="3.2" transform="rotate(-10.8 414.0 1048.3)"/><ellipse cx="447.0" cy="1038.7" rx="11.6" ry="3.2" transform="rotate(-11.6 447.0 1038.7)"/><ellipse cx="480.0" cy="1028.9" rx="11.4" ry="3.1" transform="rotate(-12.5 480.0 1028.9)"/><ellipse cx="513.0" cy="1018.7" rx="11.2" ry="3.0" transform="rotate(-13.3 513.0 1018.7)"/><ellipse cx="546.0" cy="1008.4" rx="11.0" ry="2.9" transform="rotate(-14.2 546.0 1008.4)"/><ellipse cx="579.0" cy="997.8" rx="10.8" ry="2.8" transform="rotate(-15.0 579.0 997.8)"/><ellipse cx="612.0" cy="987.0" rx="10.6" ry="2.7" transform="rotate(-15.9 612.0 987.0)"/><ellipse cx="645.0" cy="975.9" rx="10.4" ry="2.7" transform="rotate(-16.7 645.0 975.9)"/><ellipse cx="678.0" cy="964.6" rx="10.2" ry="2.6" transform="rotate(-17.6 678.0 964.6)"/><ellipse cx="711.0" cy="953.0" rx="9.9" ry="2.5" transform="rotate(-18.4 711.0 953.0)"/><ellipse cx="744.0" cy="941.2" rx="9.7" ry="2.4" transform="rotate(-19.3 744.0 941.2)"/><ellipse cx="777.0" cy="929.2" rx="9.5" ry="2.3" transform="rotate(-20.1 777.0 929.2)"/><ellipse cx="810.0" cy="916.9" rx="9.2" ry="2.2" transform="rotate(-21.0 810.0 916.9)"/><ellipse cx="843.0" cy="904.4" rx="9.0" ry="2.1" transform="rotate(-21.8 843.0 904.4)"/><ellipse cx="876.0" cy="891.6" rx="8.7" ry="2.0" transform="rotate(-22.0 876.0 891.6)"/><ellipse cx="909.0" cy="878.6" rx="8.5" ry="2.0" transform="rotate(-22.0 909.0 878.6)"/><ellipse cx="942.0" cy="865.4" rx="8.2" ry="1.9" transform="rotate(-22.0 942.0 865.4)"/><ellipse cx="975.0" cy="851.9" rx="7.9" ry="1.8" transform="rotate(-22.0 975.0 851.9)"/><ellipse cx="1008.0" cy="838.1" rx="7.6" ry="1.7" transform="rotate(-22.0 1008.0 838.1)"/><ellipse cx="1041.0" cy="824.2" rx="7.3" ry="1.6" transform="rotate(-22.0 1041.0 824.2)"/><ellipse cx="1074.0" cy="809.9" rx="7.2" ry="1.6" transform="rotate(-22.0 1074.0 809.9)"/><ellipse cx="298.5" cy="1093.6" rx="11.3" ry="3.2" transform="rotate(-7.8 298.5 1093.6)"/><ellipse cx="331.5" cy="1084.8" rx="11.1" ry="3.1" transform="rotate(-8.7 331.5 1084.8)"/><ellipse cx="364.5" cy="1075.8" rx="10.9" ry="3.0" transform="rotate(-9.5 364.5 1075.8)"/><ellipse cx="397.5" cy="1066.6" rx="10.7" ry="2.9" transform="rotate(-10.4 397.5 1066.6)"/><ellipse cx="430.5" cy="1057.1" rx="10.5" ry="2.9" transform="rotate(-11.2 430.5 1057.1)"/><ellipse cx="463.5" cy="1047.3" rx="10.3" ry="2.8" transform="rotate(-12.1 463.5 1047.3)"/><ellipse cx="496.5" cy="1037.3" rx="10.1" ry="2.7" transform="rotate(-12.9 496.5 1037.3)"/><ellipse cx="529.5" cy="1027.1" rx="9.9" ry="2.6" transform="rotate(-13.8 529.5 1027.1)"/><ellipse cx="562.5" cy="1016.6" rx="9.7" ry="2.5" transform="rotate(-14.6 562.5 1016.6)"/><ellipse cx="595.5" cy="1005.9" rx="9.4" ry="2.4" transform="rotate(-15.5 595.5 1005.9)"/><ellipse cx="628.5" cy="995.0" rx="9.2" ry="2.3" transform="rotate(-16.3 628.5 995.0)"/><ellipse cx="661.5" cy="983.8" rx="9.0" ry="2.2" transform="rotate(-17.2 661.5 983.8)"/><ellipse cx="694.5" cy="972.3" rx="8.7" ry="2.2" transform="rotate(-18.0 694.5 972.3)"/><ellipse cx="727.5" cy="960.7" rx="8.5" ry="2.1" transform="rotate(-18.9 727.5 960.7)"/><ellipse cx="760.5" cy="948.8" rx="8.2" ry="2.0" transform="rotate(-19.7 760.5 948.8)"/><ellipse cx="793.5" cy="936.6" rx="8.0" ry="1.9" transform="rotate(-20.5 793.5 936.6)"/><ellipse cx="826.5" cy="924.2" rx="7.7" ry="1.8" transform="rotate(-21.4 826.5 924.2)"/><ellipse cx="859.5" cy="911.5" rx="7.4" ry="1.7" transform="rotate(-22.0 859.5 911.5)"/><ellipse cx="892.5" cy="898.7" rx="7.1" ry="1.6" transform="rotate(-22.0 892.5 898.7)"/><ellipse cx="925.5" cy="885.5" rx="6.9" ry="1.5" transform="rotate(-22.0 925.5 885.5)"/><ellipse cx="958.5" cy="872.2" rx="6.6" ry="1.4" transform="rotate(-22.0 958.5 872.2)"/><ellipse cx="991.5" cy="858.5" rx="6.3" ry="1.3" transform="rotate(-22.0 991.5 858.5)"/><ellipse cx="1024.5" cy="844.7" rx="6.0" ry="1.3" transform="rotate(-22.0 1024.5 844.7)"/><ellipse cx="1057.5" cy="830.6" rx="5.8" ry="1.2" transform="rotate(-22.0 1057.5 830.6)"/><ellipse cx="1090.5" cy="816.2" rx="5.8" ry="1.2" transform="rotate(-22.0 1090.5 816.2)"/><ellipse cx="348.0" cy="1093.8" rx="9.9" ry="2.7" transform="rotate(-9.1 348.0 1093.8)"/><ellipse cx="381.0" cy="1084.7" rx="9.7" ry="2.6" transform="rotate(-9.9 381.0 1084.7)"/><ellipse cx="414.0" cy="1075.3" rx="9.5" ry="2.5" transform="rotate(-10.8 414.0 1075.3)"/><ellipse cx="447.0" cy="1065.7" rx="9.2" ry="2.4" transform="rotate(-11.6 447.0 1065.7)"/><ellipse cx="480.0" cy="1055.9" rx="9.0" ry="2.4" transform="rotate(-12.5 480.0 1055.9)"/><ellipse cx="513.0" cy="1045.7" rx="8.8" ry="2.3" transform="rotate(-13.3 513.0 1045.7)"/><ellipse cx="546.0" cy="1035.4" rx="8.5" ry="2.2" transform="rotate(-14.2 546.0 1035.4)"/><ellipse cx="579.0" cy="1024.8" rx="8.3" ry="2.1" transform="rotate(-15.0 579.0 1024.8)"/><ellipse cx="612.0" cy="1014.0" rx="8.1" ry="2.0" transform="rotate(-15.9 612.0 1014.0)"/><ellipse cx="645.0" cy="1002.9" rx="7.8" ry="1.9" transform="rotate(-16.7 645.0 1002.9)"/><ellipse cx="678.0" cy="991.6" rx="7.6" ry="1.8" transform="rotate(-17.6 678.0 991.6)"/><ellipse cx="711.0" cy="980.0" rx="7.3" ry="1.7" transform="rotate(-18.4 711.0 980.0)"/><ellipse cx="744.0" cy="968.2" rx="7.1" ry="1.7" transform="rotate(-19.3 744.0 968.2)"/><ellipse cx="777.0" cy="956.2" rx="6.8" ry="1.6" transform="rotate(-20.1 777.0 956.2)"/><ellipse cx="810.0" cy="943.9" rx="6.5" ry="1.5" transform="rotate(-21.0 810.0 943.9)"/><ellipse cx="843.0" cy="931.4" rx="6.3" ry="1.4" transform="rotate(-21.8 843.0 931.4)"/><ellipse cx="876.0" cy="918.6" rx="6.0" ry="1.3" transform="rotate(-22.0 876.0 918.6)"/><ellipse cx="909.0" cy="905.6" rx="5.7" ry="1.2" transform="rotate(-22.0 909.0 905.6)"/><ellipse cx="942.0" cy="892.4" rx="5.5" ry="1.1" transform="rotate(-22.0 942.0 892.4)"/><ellipse cx="975.0" cy="878.9" rx="5.2" ry="1.1" transform="rotate(-22.0 975.0 878.9)"/><ellipse cx="1008.0" cy="865.1" rx="5.0" ry="1.0" transform="rotate(-22.0 1008.0 865.1)"/><ellipse cx="1041.0" cy="851.2" rx="4.7" ry="0.9" transform="rotate(-22.0 1041.0 851.2)"/><ellipse cx="1074.0" cy="836.9" rx="4.6" ry="0.9" transform="rotate(-22.0 1074.0 836.9)"/><ellipse cx="397.5" cy="1093.6" rx="8.4" ry="2.2" transform="rotate(-10.4 397.5 1093.6)"/><ellipse cx="430.5" cy="1084.1" rx="8.2" ry="2.1" transform="rotate(-11.2 430.5 1084.1)"/><ellipse cx="463.5" cy="1074.3" rx="8.0" ry="2.0" transform="rotate(-12.1 463.5 1074.3)"/><ellipse cx="496.5" cy="1064.3" rx="7.7" ry="2.0" transform="rotate(-12.9 496.5 1064.3)"/><ellipse cx="529.5" cy="1054.1" rx="7.5" ry="1.9" transform="rotate(-13.8 529.5 1054.1)"/><ellipse cx="562.5" cy="1043.6" rx="7.3" ry="1.8" transform="rotate(-14.6 562.5 1043.6)"/><ellipse cx="595.5" cy="1032.9" rx="7.0" ry="1.7" transform="rotate(-15.5 595.5 1032.9)"/><ellipse cx="628.5" cy="1022.0" rx="6.8" ry="1.6" transform="rotate(-16.3 628.5 1022.0)"/><ellipse cx="661.5" cy="1010.8" rx="6.5" ry="1.5" transform="rotate(-17.2 661.5 1010.8)"/><ellipse cx="694.5" cy="999.3" rx="6.3" ry="1.4" transform="rotate(-18.0 694.5 999.3)"/><ellipse cx="727.5" cy="987.7" rx="6.0" ry="1.4" transform="rotate(-18.9 727.5 987.7)"/><ellipse cx="760.5" cy="975.8" rx="5.8" ry="1.3" transform="rotate(-19.7 760.5 975.8)"/><ellipse cx="793.5" cy="963.6" rx="5.6" ry="1.2" transform="rotate(-20.5 793.5 963.6)"/><ellipse cx="826.5" cy="951.2" rx="5.3" ry="1.1" transform="rotate(-21.4 826.5 951.2)"/><ellipse cx="859.5" cy="938.5" rx="5.1" ry="1.1" transform="rotate(-22.0 859.5 938.5)"/><ellipse cx="892.5" cy="925.7" rx="4.9" ry="1.0" transform="rotate(-22.0 892.5 925.7)"/><ellipse cx="925.5" cy="912.5" rx="4.6" ry="0.9" transform="rotate(-22.0 925.5 912.5)"/><ellipse cx="958.5" cy="899.2" rx="4.4" ry="0.9" transform="rotate(-22.0 958.5 899.2)"/><ellipse cx="447.0" cy="1092.7" rx="7.0" ry="1.7" transform="rotate(-11.6 447.0 1092.7)"/><ellipse cx="480.0" cy="1082.9" rx="6.8" ry="1.7" transform="rotate(-12.5 480.0 1082.9)"/><ellipse cx="513.0" cy="1072.7" rx="6.6" ry="1.6" transform="rotate(-13.3 513.0 1072.7)"/><ellipse cx="546.0" cy="1062.4" rx="6.3" ry="1.5" transform="rotate(-14.2 546.0 1062.4)"/><ellipse cx="579.0" cy="1051.8" rx="6.1" ry="1.4" transform="rotate(-15.0 579.0 1051.8)"/><ellipse cx="612.0" cy="1041.0" rx="5.9" ry="1.4" transform="rotate(-15.9 612.0 1041.0)"/><ellipse cx="645.0" cy="1029.9" rx="5.7" ry="1.3" transform="rotate(-16.7 645.0 1029.9)"/><ellipse cx="678.0" cy="1018.6" rx="5.4" ry="1.2" transform="rotate(-17.6 678.0 1018.6)"/><ellipse cx="711.0" cy="1007.0" rx="5.2" ry="1.1" transform="rotate(-18.4 711.0 1007.0)"/><ellipse cx="744.0" cy="995.2" rx="5.0" ry="1.1" transform="rotate(-19.3 744.0 995.2)"/><ellipse cx="777.0" cy="983.2" rx="4.8" ry="1.0" transform="rotate(-20.1 777.0 983.2)"/><ellipse cx="810.0" cy="970.9" rx="4.6" ry="0.9" transform="rotate(-21.0 810.0 970.9)"/><ellipse cx="496.5" cy="1091.3" rx="5.8" ry="1.3" transform="rotate(-12.9 496.5 1091.3)"/><ellipse cx="529.5" cy="1081.1" rx="5.5" ry="1.3" transform="rotate(-13.8 529.5 1081.1)"/><ellipse cx="562.5" cy="1070.6" rx="5.3" ry="1.2" transform="rotate(-14.6 562.5 1070.6)"/><ellipse cx="595.5" cy="1059.9" rx="5.1" ry="1.1" transform="rotate(-15.5 595.5 1059.9)"/><ellipse cx="628.5" cy="1049.0" rx="4.9" ry="1.1" transform="rotate(-16.3 628.5 1049.0)"/><ellipse cx="661.5" cy="1037.8" rx="4.8" ry="1.0" transform="rotate(-17.2 661.5 1037.8)"/><ellipse cx="694.5" cy="1026.3" rx="4.6" ry="1.0" transform="rotate(-18.0 694.5 1026.3)"/><ellipse cx="546.0" cy="1089.4" rx="4.7" ry="1.0" transform="rotate(-14.2 546.0 1089.4)"/></g>
</svg>
<div style="position:absolute;left:0;top:0;width:152px;height:1080px;background:#0a5a9d"></div>
<svg style="left:0;top:700px" width="220" height="380" viewBox="0 700 220 380">
<line x1="17" y1="760" x2="27" y2="760" stroke="#7fb2ea" stroke-width="1.3" stroke-linecap="round" opacity="0.85"/>
<line x1="1" y1="776" x2="1" y2="786" stroke="#7fb2ea" stroke-width="1.3" stroke-linecap="round" opacity="0.85"/>
<line x1="43" y1="776" x2="43" y2="786" stroke="#7fb2ea" stroke-width="1.3" stroke-linecap="round" opacity="0.85"/>
<line x1="18" y1="801" x2="27" y2="801" stroke="#7fb2ea" stroke-width="1.3" stroke-linecap="round" opacity="0.85"/>
<line x1="71" y1="765" x2="73" y2="771" stroke="#7fb2ea" stroke-width="1.3" stroke-linecap="round" opacity="0.85"/>
<line x1="78" y1="799" x2="81" y2="805" stroke="#7fb2ea" stroke-width="1.3" stroke-linecap="round" opacity="0.85"/>
<line x1="103" y1="822" x2="107" y2="825" stroke="#7fb2ea" stroke-width="1.3" stroke-linecap="round" opacity="0.85"/>
<line x1="86" y1="736" x2="88" y2="738" stroke="#7fb2ea" stroke-width="1.3" stroke-linecap="round" opacity="0.85"/>
<line x1="123" y1="808" x2="123" y2="816" stroke="#7a6fd0" stroke-width="1.3" stroke-linecap="round" opacity="0.85"/>
<line x1="119" y1="812" x2="127" y2="812" stroke="#7a6fd0" stroke-width="1.3" stroke-linecap="round" opacity="0.85"/>
<circle cx="1" cy="823" r="2" fill="#6d6fd0"/>
<path d="M0,890 C12,888 24,891 30,897" stroke="#3f78bd" stroke-width="1" fill="none"/>
<path d="M0,1068 L4,1056 C8,1030 10,1000 11,975 C12,952 15,935 21,925 C27,914 34,904 40,899 C43,896 47,897 48,900 L132,900 L132,990 L104,1000 L101,1016 C90,1022 82,1028 78,1036 L72,1080 L0,1080 Z" fill="#d5d5d7"/>
<path d="M0,1068 L4,1056 C8,1030 10,1000 11,975 C12,952 15,935 21,925 C27,914 34,904 40,899 C43,896 47,897 48,900" fill="none" stroke="#eef2f8" stroke-width="1"/>
<path d="M29,912 C33,906 38,901 42,900" fill="none" stroke="#8d8f94" stroke-width="0.8"/>
<path d="M20,927 L24,930" fill="none" stroke="#8d8f94" stroke-width="0.8"/>
<path d="M46,923 C40,925 37,932 37.5,939 C38,945 41,948 46,949 Z" fill="#0a5a9d"/>
<path d="M55,1000 L57,1008 L66,1003" fill="none" stroke="#8d8f94" stroke-width="0.8"/>
<path d="M131,915 C133,902 137,890 143,889 C148,889 147,898 144,905 C141,911 136,916 131,917 Z" fill="#d5d5d7"/>
<ellipse cx="138" cy="941" rx="9" ry="11" fill="#d5d5d7"/>
<ellipse cx="137" cy="959" rx="9" ry="10" fill="#d5d5d7"/>
<ellipse cx="136" cy="977" rx="8" ry="9" fill="#d5d5d7"/>
<ellipse cx="137" cy="940" rx="5" ry="6.5" fill="none" stroke="#8d8f94" stroke-width="0.8"/>
<ellipse cx="136" cy="958" rx="5" ry="6" fill="none" stroke="#8d8f94" stroke-width="0.8"/>
<ellipse cx="135" cy="976" rx="4.5" ry="5" fill="none" stroke="#8d8f94" stroke-width="0.8"/>
<rect x="45.6" y="831.6" width="85.8" height="167.6" rx="5.5" fill="#09569a" stroke="#e4edf7" stroke-width="1.4"/>
<line x1="80" y1="835.3" x2="95.5" y2="835.3" stroke="#e4edf7" stroke-width="1.2"/><circle cx="77.5" cy="835.3" r="1" fill="#e4edf7"/>
<path d="M72,839.3 L122,839.3 Q125.5,839.3 125.5,843 L125.5,889" fill="none" stroke="#e4edf7" stroke-width="1.1"/>
<rect x="54.8" y="843.3" width="67.5" height="20.9" rx="4" fill="#fff"/>
<text x="70" y="859.5" font-family="Liberation Sans" font-weight="bold" font-style="italic" font-size="12.5" fill="#6d6e72" textLength="31.5" lengthAdjust="spacingAndGlyphs">UPI</text>
<path d="M101.5,849 L107.5,854 L101.5,859.5 Z" fill="#e8742a"/><path d="M101.5,854 L103.5,852 L103.5,857 Z" fill="#2f8a3c"/>
<line x1="59" y1="880.8" x2="118" y2="880.8" stroke="#cfe0f4" stroke-width="1.2" stroke-dasharray="1.6 1 1.6 1 1.6 1 1.6 6.6"/>
<line x1="80" y1="886" x2="96" y2="886" stroke="#cfe0f4" stroke-width="1" stroke-dasharray="1.5 1 1.5 3 1.5 1 1.5 10"/>
<line x1="60" y1="893.5" x2="88" y2="893.5" stroke="#4a83c8" stroke-width="1"/>
<text x="104" y="902" font-family="Liberation Sans" font-weight="bold" font-size="11" fill="#fff" letter-spacing="-0.6">1000</text>
<path d="M97.5,892 H103.5 M97.5,894.8 H103.5 M99,892 C102.5,892 102.5,897.5 99,897.5 H98 L102.5,902" stroke="#fff" stroke-width="1.2" fill="none"/>
<line x1="53" y1="909.5" x2="124" y2="909.5" stroke="#2e6fb8" stroke-width="1.2"/>
<circle cx="60.4" cy="925.3" r="6.3" fill="#5a8fd2"/><circle cx="60.4" cy="923.3" r="2" fill="#fff"/><path d="M56.8,929.5 C57,926 63.8,926 64,929.5 Z" fill="#fff"/>
<rect x="72.6" y="920.2" width="49.9" height="10.7" rx="1.5" fill="#4f86cb"/>
<line x1="80" y1="924" x2="116" y2="924" stroke="#fff" stroke-width="1.3"/><line x1="80" y1="928" x2="93" y2="928" stroke="#fff" stroke-width="1.1"/>
<line x1="53" y1="941.7" x2="122" y2="941.7" stroke="#2e6fb8" stroke-width="1.2"/>
<path d="M49.7,954.6 L49.7,990 Q49.7,994 54,994 L121.5,994 Q126,994 126,990 L126,973.6" fill="none" stroke="#a9cdf3" stroke-width="1.2"/>
<line x1="75" y1="991" x2="100" y2="991" stroke="#a9cdf3" stroke-width="1.1"/>
<rect x="67.3" y="956.5" width="41.7" height="12.5" rx="6.25" fill="none" stroke="#6fa7e6" stroke-width="1.3"/>
<text x="74" y="965.3" font-family="Liberation Sans" font-size="5.5" fill="#7fa9dc" letter-spacing="0.3">CONTINUE</text>
<path d="M97.5,964 C97.5,959 100.5,957.5 104,957.5 C107.5,957.5 109.5,960 110.3,964 L124.5,1031.5 C140,1030.5 158,1032 172,1039 C186,1046 196,1062 200,1080 L104,1080 Z" fill="#d5d5d7"/>
<path d="M97.5,964 L104,1080" stroke="#8d8f94" stroke-width="0.8" fill="none"/>
<rect x="99.5" y="960" width="8" height="11" rx="3.5" fill="none" stroke="#8d8f94" stroke-width="0.8"/>
<path d="M103,982 L110,980 M107,1011 L114,1009 M106,1014 L113,1012" stroke="#8d8f94" stroke-width="0.7" fill="none"/>
<path d="M104,1060 L106,1070" stroke="#8d8f94" stroke-width="0.7" fill="none"/>
</svg>
<svg style="left:0;top:0" width="1080" height="300"><polygon points="756,0 1027.5,0 1027.5,280.5 892,253.5 756,280.5" fill="#ef6857"/></svg>
<div class="t" style="left:220.00px;top:36.93px;font-size:55.00px;font-weight:bold;font-style:italic;color:#0a0a0a;letter-spacing:0px;transform:scaleX(0.812);-webkit-text-stroke:2.6px #0a0a0a;">WHAT INDIAN</div>
<div class="t" style="left:220.00px;top:87.65px;font-size:54.50px;font-weight:bold;font-style:italic;color:#0a0a0a;letter-spacing:0px;transform:scaleX(0.772);-webkit-text-stroke:2.6px #0a0a0a;">PAID FOR</div>
<div class="t" style="left:219.00px;top:153.55px;font-size:29.00px;font-weight:bold;font-style:normal;color:#111;letter-spacing:0.5px;">By value of UPI</div>
<div class="t" style="left:219.00px;top:190.75px;font-size:29.00px;font-weight:bold;font-style:normal;color:#111;letter-spacing:0.95px;">transactions <span style="font-weight:normal;letter-spacing:1.35px">(July 2025)</span></div>
<div class="t" style="left:591px;width:600px;text-align:center;top:39.18px;font-size:30.5px;font-weight:normal;font-style:normal;color:#fff;letter-spacing:0px;">TOTAL VALUE</div>
<div class="t" style="left:591px;width:600px;text-align:center;top:75.43px;font-size:30.5px;font-weight:normal;font-style:normal;color:#fff;letter-spacing:0px;">OF P2M</div>
<div class="t" style="left:591px;width:600px;text-align:center;top:101.68px;font-size:30.5px;font-weight:normal;font-style:normal;color:#fff;letter-spacing:0px;">TRANSACTIONS</div>
<div class="t" style="left:607px;width:600px;text-align:center;top:146.89px;font-size:39.75px;font-weight:bold;font-style:italic;color:#fff;letter-spacing:0px;transform:scaleX(0.938);transform-origin:50% 0;-webkit-text-stroke:1.4px #fff;">7,34,012.36</div>
<div class="t" style="left:595px;width:600px;text-align:center;top:186.73px;font-size:41.3px;font-weight:bold;font-style:italic;color:#fff;letter-spacing:0px;transform:scaleX(0.74);transform-origin:50% 0;-webkit-text-stroke:1.6px #fff;">CRORE</div>
<svg style="left:776.5px;top:145.8px" width="40" height="42" viewBox="0 0 40 42"><path d="M7.5 5.8 H31.5 M6.5 12.6 H30 M14.5 5.8 C26 5.8 25 20 13 20 H8.5 L19.5 36.8" stroke="#fff" stroke-width="3" fill="none" stroke-linejoin="miter"/></svg>
<div class="t" style="left:176.50px;top:288.98px;font-size:30.50px;font-weight:normal;font-style:normal;color:#111;letter-spacing:1.296px;">Debt collection agencies</div>
<div class="t" style="left:845.30px;top:288.98px;font-size:30.50px;font-weight:bold;font-style:normal;color:#0a0a0a;letter-spacing:0.7px;-webkit-text-stroke:0.5px #0a0a0a;">93,857.47</div>
<div class="bar" style="left:178px;top:326.80px;width:869.80px;height:15.5px"></div>
<div class="t" style="left:176.50px;top:360.46px;font-size:30.50px;font-weight:normal;font-style:normal;color:#111;letter-spacing:0.996px;">Groceries and supermarkets</div>
<div class="t" style="left:845.30px;top:360.46px;font-size:30.50px;font-weight:bold;font-style:normal;color:#0a0a0a;letter-spacing:0.7px;-webkit-text-stroke:0.5px #0a0a0a;">64,881.98</div>
<div class="bar" style="left:178px;top:397.43px;width:601.28px;height:15.5px"></div>
<div class="t" style="left:176.50px;top:431.94px;font-size:30.50px;font-weight:normal;font-style:normal;color:#111;letter-spacing:0.873px;">Service stations</div>
<div class="t" style="left:845.30px;top:431.94px;font-size:30.50px;font-weight:bold;font-style:normal;color:#0a0a0a;letter-spacing:0.7px;-webkit-text-stroke:0.5px #0a0a0a;">35,188.88</div>
<div class="bar" style="left:178px;top:468.06px;width:326.10px;height:15.5px"></div>
<div class="t" style="left:176.50px;top:503.42px;font-size:30.50px;font-weight:normal;font-style:normal;color:#111;letter-spacing:0.824px;">Utilities electric, gas, water and sanitary</div>
<div class="t" style="left:845.30px;top:503.42px;font-size:30.50px;font-weight:bold;font-style:normal;color:#0a0a0a;letter-spacing:0.7px;-webkit-text-stroke:0.5px #0a0a0a;">23,497.63</div>
<div class="bar" style="left:178px;top:538.69px;width:217.76px;height:15.5px"></div>
<div class="t" style="left:176.50px;top:574.90px;font-size:30.50px;font-weight:normal;font-style:normal;color:#111;letter-spacing:1.256px;">Telecommunication services<span class="ast">*</span></div>
<div class="t" style="left:845.30px;top:574.90px;font-size:30.50px;font-weight:bold;font-style:normal;color:#0a0a0a;letter-spacing:0.7px;-webkit-text-stroke:0.5px #0a0a0a;">21,628.80</div>
<div class="bar" style="left:178px;top:609.32px;width:200.44px;height:15.5px"></div>
<div class="t" style="left:176.50px;top:646.38px;font-size:30.50px;font-weight:normal;font-style:normal;color:#111;letter-spacing:0.914px;">Eating places and restaurants</div>
<div class="t" style="left:845.30px;top:646.38px;font-size:30.50px;font-weight:bold;font-style:normal;color:#0a0a0a;letter-spacing:0.7px;-webkit-text-stroke:0.5px #0a0a0a;">18,212.77</div>
<div class="bar" style="left:178px;top:679.95px;width:168.78px;height:15.5px"></div>
<div class="t" style="left:176.50px;top:717.86px;font-size:30.50px;font-weight:normal;font-style:normal;color:#111;letter-spacing:0.85px;">Fast food restaurants</div>
<div class="t" style="left:845.30px;top:717.86px;font-size:30.50px;font-weight:bold;font-style:normal;color:#0a0a0a;letter-spacing:0.7px;-webkit-text-stroke:0.5px #0a0a0a;">13,794.22</div>
<div class="bar" style="left:178px;top:750.58px;width:127.83px;height:15.5px"></div>
<div class="t" style="left:176.50px;top:789.34px;font-size:30.50px;font-weight:normal;font-style:normal;color:#111;letter-spacing:0.964px;">Drug stores and pharmacies</div>
<div class="t" style="left:845.30px;top:789.34px;font-size:30.50px;font-weight:bold;font-style:normal;color:#0a0a0a;letter-spacing:0.7px;-webkit-text-stroke:0.5px #0a0a0a;">11,824.93</div>
<div class="bar" style="left:178px;top:821.21px;width:109.58px;height:15.5px"></div>
<div class="t" style="left:176.50px;top:860.82px;font-size:30.50px;font-weight:normal;font-style:normal;color:#111;letter-spacing:0.98px;">Government services <span style="font-size:26.5px;letter-spacing:0.82px">(not elsewhere classified)</span></div>
<div class="t" style="left:845.30px;top:860.82px;font-size:30.50px;font-weight:bold;font-style:normal;color:#0a0a0a;letter-spacing:0.7px;-webkit-text-stroke:0.5px #0a0a0a;">11,298.32</div>
<div class="bar" style="left:178px;top:891.84px;width:104.70px;height:15.5px"></div>
<div class="t" style="left:176.50px;top:932.30px;font-size:30.50px;font-weight:normal;font-style:normal;color:#111;letter-spacing:1.131px;">Mens and womens clothing shops</div>
<div class="t" style="left:845.30px;top:932.30px;font-size:30.50px;font-weight:bold;font-style:normal;color:#0a0a0a;letter-spacing:0.7px;-webkit-text-stroke:0.5px #0a0a0a;">10,874.31</div>
<div class="bar" style="left:178px;top:962.47px;width:100.77px;height:15.5px"></div>
<div class="t" style="left:186.00px;top:1013.65px;font-size:22.50px;font-weight:normal;font-style:normal;color:#222;letter-spacing:1.68px;"><sup class="ast2">*</sup>Including local and long distance calls</div>
<div class="t" style="left:0;top:0;transform:translate(87.5px,534.4px) rotate(-90deg);transform-origin:0 0;font-size:32px;color:#fff;line-height:1"><div style="position:absolute;left:0;top:-27px;letter-spacing:0.36px">Top 10 merchant</div></div>
<div class="t" style="left:0;top:0;transform:translate(124.5px,600.5px) rotate(-90deg);transform-origin:0 0;font-size:32px;color:#fff;line-height:1"><div style="position:absolute;left:0;top:-27px;letter-spacing:0px">categories (in <svg width="14" height="22" viewBox="0 0 14 22" style="position:static;display:inline-block;vertical-align:baseline;margin:0 1px"><path d="M0 1.2H14M0 6.4H14M3.5 1.2C11 1.2 11 11.6 3.5 11.6H1.2L11.5 21.8" stroke="#fff" stroke-width="2" fill="none"/></svg> crore)</div></div>
<div style="position:absolute;left:1005.6px;top:992.2px;width:37.1px;height:37.1px;background:#e3262b"></div>
<div class="t" style="left:1010.50px;top:991.97px;font-size:37.00px;font-weight:bold;font-style:normal;color:#fff;letter-spacing:-1.5px;transform:scaleX(0.74);-webkit-text-stroke:0.6px #fff;">18</div>
<div class="t" style="left:866.50px;top:998.00px;font-size:36.50px;font-weight:bold;font-style:normal;color:#111;letter-spacing:-2.0px;-webkit-text-stroke:0.7px #111;">Network</div>
<div class="t" style="left:951.50px;top:1030.61px;font-size:25.50px;font-weight:bold;font-style:normal;color:#111;letter-spacing:-0.5px;-webkit-text-stroke:0.6px #111;">creative</div>
<style>.ast{font-size:19px;vertical-align:0;position:relative;top:-9.5px;margin-left:1px;letter-spacing:0}.ast2{font-size:14px;vertical-align:0;position:relative;top:-8px;}</style>
</body></html>
